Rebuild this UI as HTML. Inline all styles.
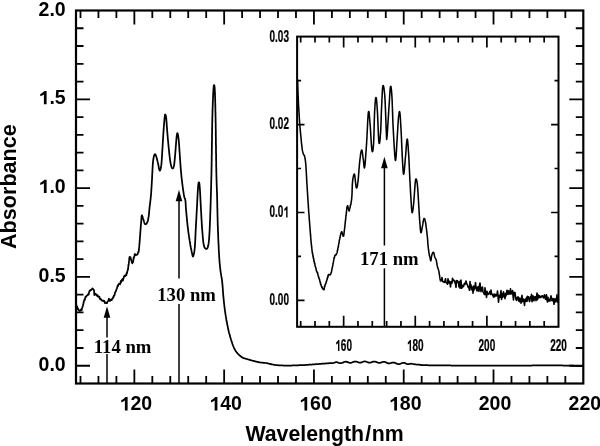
<!DOCTYPE html><html><head><meta charset="utf-8"><style>html,body{margin:0;padding:0;background:#fff;}svg{display:block;filter:grayscale(1);}</style></head><body><svg width="600" height="446" viewBox="0 0 600 446"><rect width="600" height="446" fill="#fff"/><path d="M80.49,383.5v-7.5M80.49,10.5v7.5 M98.45,383.5v-7.5M98.45,10.5v7.5 M116.40,383.5v-7.5M116.40,10.5v7.5 M134.36,383.5v-14M134.36,10.5v14 M152.32,383.5v-7.5M152.32,10.5v7.5 M170.28,383.5v-7.5M170.28,10.5v7.5 M188.23,383.5v-7.5M188.23,10.5v7.5 M206.19,383.5v-7.5M206.19,10.5v7.5 M224.15,383.5v-14M224.15,10.5v14 M242.11,383.5v-7.5M242.11,10.5v7.5 M260.06,383.5v-7.5M260.06,10.5v7.5 M278.02,383.5v-7.5M278.02,10.5v7.5 M295.98,383.5v-7.5M295.98,10.5v7.5 M313.94,383.5v-14M313.94,10.5v14 M331.89,383.5v-7.5M331.89,10.5v7.5 M349.85,383.5v-7.5M349.85,10.5v7.5 M367.81,383.5v-7.5M367.81,10.5v7.5 M385.77,383.5v-7.5M385.77,10.5v7.5 M403.72,383.5v-14M403.72,10.5v14 M421.68,383.5v-7.5M421.68,10.5v7.5 M439.64,383.5v-7.5M439.64,10.5v7.5 M457.60,383.5v-7.5M457.60,10.5v7.5 M475.55,383.5v-7.5M475.55,10.5v7.5 M493.51,383.5v-14M493.51,10.5v14 M511.47,383.5v-7.5M511.47,10.5v7.5 M529.43,383.5v-7.5M529.43,10.5v7.5 M547.38,383.5v-7.5M547.38,10.5v7.5 M565.34,383.5v-7.5M565.34,10.5v7.5 M76,365.74h14M583.3,365.74h-14 M76,347.98h7.5M583.3,347.98h-7.5 M76,330.21h7.5M583.3,330.21h-7.5 M76,312.45h7.5M583.3,312.45h-7.5 M76,294.69h7.5M583.3,294.69h-7.5 M76,276.93h14M583.3,276.93h-14 M76,259.17h7.5M583.3,259.17h-7.5 M76,241.40h7.5M583.3,241.40h-7.5 M76,223.64h7.5M583.3,223.64h-7.5 M76,205.88h7.5M583.3,205.88h-7.5 M76,188.12h14M583.3,188.12h-14 M76,170.36h7.5M583.3,170.36h-7.5 M76,152.60h7.5M583.3,152.60h-7.5 M76,134.83h7.5M583.3,134.83h-7.5 M76,117.07h7.5M583.3,117.07h-7.5 M76,99.31h14M583.3,99.31h-14 M76,81.55h7.5M583.3,81.55h-7.5 M76,63.79h7.5M583.3,63.79h-7.5 M76,46.02h7.5M583.3,46.02h-7.5 M76,28.26h7.5M583.3,28.26h-7.5" stroke="#000" stroke-width="1.8" fill="none"/><rect x="76" y="10.5" width="507.29999999999995" height="373.0" stroke="#000" stroke-width="2.2" fill="none"/><path d="M76.5,304.9L76.6,306.0L76.8,306.7L77.0,306.5L77.2,306.7L77.4,307.8L77.6,308.6L77.9,309.4L78.2,308.8L78.4,309.2L78.7,310.3L79.2,310.4L79.7,310.9L80.3,310.5L80.8,309.7L81.4,309.2L81.8,310.0L82.0,308.3L82.2,307.7L82.3,307.1L82.5,307.2L82.6,306.7L82.8,306.0L82.9,305.6L83.0,305.2L83.1,304.8L83.3,304.5L83.4,303.6L83.6,302.2L83.7,302.7L83.9,301.2L84.0,301.2L84.2,300.1L84.4,300.2L84.5,299.3L84.7,299.3L84.8,300.2L85.0,298.3L85.3,298.0L85.6,296.5L85.9,296.5L86.2,296.6L86.5,295.9L86.9,295.7L87.3,295.3L87.8,294.5L88.2,294.8L88.5,293.8L88.7,294.6L88.9,292.9L89.0,292.9L89.1,292.0L89.3,291.9L89.6,290.7L90.0,290.9L90.5,289.9L90.9,290.2L91.4,289.5L91.9,289.0L92.4,288.4L92.8,289.0L93.2,289.1L93.5,290.0L93.8,289.7L94.0,290.7L94.1,291.2L94.1,291.6L94.2,292.2L94.2,292.8L94.2,293.0L94.2,293.4L94.3,294.1L94.3,294.8L94.4,295.0L94.6,293.9L94.9,293.5L95.2,293.5L95.5,293.8L95.9,294.1L96.3,294.8L96.7,295.7L97.1,295.1L97.5,295.2L97.9,296.6L98.3,296.2L98.7,296.8L99.1,297.2L99.4,296.7L99.7,298.7L100.0,298.9L100.3,298.7L100.6,299.4L100.9,299.6L101.2,299.5L101.5,300.1L102.1,300.6L102.7,300.9L103.3,300.7L103.8,300.6L104.1,301.6L104.4,301.1L104.7,302.4L104.9,303.1L105.1,302.9L105.4,302.5L105.9,303.0L106.4,303.2L106.9,302.8L107.2,302.9L107.5,301.3L107.9,301.2L108.2,300.9L108.6,300.1L108.9,298.7L109.4,300.1L109.8,301.0L110.3,300.6L110.9,299.5L111.2,299.5L111.5,299.5L111.8,300.1L112.1,298.9L112.4,298.3L112.8,298.4L113.1,297.2L113.4,297.6L113.7,295.9L114.0,295.5L114.2,295.6L114.4,295.5L114.6,294.6L114.8,294.0L115.0,292.5L115.2,292.5L115.4,292.0L115.6,291.5L115.8,291.5L116.0,290.5L116.2,290.5L116.3,289.8L116.5,289.2L116.7,288.8L116.9,288.3L117.1,288.0L117.3,286.9L117.5,286.5L117.7,285.5L117.8,286.4L118.0,286.0L118.2,284.9L118.6,284.3L119.0,283.7L119.4,284.1L119.8,283.8L120.1,284.3L120.4,283.0L120.6,282.1L120.9,280.8L121.2,282.1L121.5,281.1L121.8,279.8L122.2,280.1L122.6,278.9L122.9,280.7L123.2,279.2L123.5,278.4L123.8,277.5L124.0,276.1L124.3,276.5L124.7,275.6L125.1,276.3L125.6,274.8L126.0,274.8L126.2,275.4L126.4,275.2L126.5,273.5L126.7,272.8L126.9,273.4L127.1,272.9L127.2,271.5L127.4,271.1L127.6,270.5L127.7,269.8L127.8,269.5L127.9,269.9L128.0,269.2L128.1,269.3L128.2,267.9L128.2,267.4L128.3,266.5L128.4,266.4L128.4,265.3L128.5,264.5L128.6,265.0L128.7,264.9L128.7,264.1L128.8,263.7L128.9,262.6L128.9,261.5L129.0,261.2L129.1,260.4L129.2,259.4L129.2,258.5L129.3,258.1L129.4,258.2L129.5,257.8L129.5,257.1L129.6,257.7L129.7,256.9L129.9,256.9L130.1,257.5L130.4,257.1L130.6,257.3L130.9,259.3L131.1,259.3L131.3,260.7L131.5,260.9L131.7,261.9L131.9,262.4L132.1,261.7L132.3,263.3L132.5,262.7L132.6,262.5L132.8,262.3L132.9,262.4L133.1,261.9L133.2,261.3L133.4,259.5L133.5,259.3L133.6,257.9L133.8,258.3L133.9,258.2L134.1,256.9L134.2,256.8L134.3,256.2L134.5,255.9L134.6,254.6L134.8,254.2L135.0,254.0L135.5,255.0L136.1,255.0L136.7,254.7L137.2,254.7L137.4,254.4L137.6,254.1L137.8,253.5L138.0,253.0L138.2,252.0L138.4,251.7L138.6,252.1L138.7,250.9L138.8,250.3L138.9,249.8L138.9,249.4L139.0,249.1L139.0,248.4L139.1,247.9L139.1,247.4L139.2,246.9L139.3,246.3L139.3,245.7L139.3,245.2L139.4,244.6L139.4,244.0L139.5,243.4L139.5,242.9L139.6,242.5L139.6,242.0L139.7,241.5L139.7,241.0L139.7,240.5L139.8,240.0L139.8,239.5L139.8,239.0L139.9,238.5L139.9,238.0L139.9,237.4L140.0,236.9L140.0,236.3L140.1,235.8L140.1,235.2L140.2,234.6L140.2,234.0L140.2,233.6L140.3,233.1L140.3,232.6L140.3,232.1L140.4,231.6L140.4,231.1L140.5,230.5L140.5,230.0L140.6,229.5L140.6,228.9L140.6,228.4L140.7,227.8L140.7,227.3L140.8,226.7L140.8,226.2L140.8,225.7L140.9,225.1L140.9,224.6L141.0,224.1L141.0,223.6L141.1,223.2L141.1,222.7L141.1,222.3L141.2,221.9L141.2,221.5L141.3,220.7L141.3,220.0L141.4,219.2L141.4,218.5L141.5,217.9L141.5,217.3L141.5,216.7L141.6,216.3L141.7,215.9L141.7,215.6L141.8,215.4L141.9,215.3L142.0,215.4L142.2,215.6L142.3,216.0L142.5,216.5L142.7,217.0L142.8,217.7L143.0,218.3L143.2,219.0L143.4,219.6L143.5,220.1L143.7,220.6L143.9,221.3L144.1,221.9L144.3,222.5L144.5,223.1L144.7,223.6L144.9,224.0L145.1,224.2L145.5,224.3L146.0,224.1L146.4,223.7L146.9,223.1L147.3,222.4L147.4,222.0L147.6,221.7L147.7,221.2L147.8,220.8L148.0,220.3L148.1,219.8L148.2,219.2L148.3,218.6L148.4,218.0L148.5,217.4L148.6,216.8L148.7,216.2L148.8,215.8L148.8,215.3L148.9,214.9L148.9,214.4L149.0,214.0L149.0,213.5L149.1,213.0L149.1,212.5L149.2,212.0L149.2,211.5L149.2,211.0L149.3,210.5L149.3,209.9L149.4,209.4L149.4,208.9L149.5,208.3L149.5,207.8L149.6,207.2L149.7,206.7L149.7,206.3L149.8,205.8L149.8,205.3L149.9,204.9L149.9,204.4L150.0,203.9L150.1,203.4L150.1,203.0L150.2,202.5L150.2,202.0L150.3,201.5L150.4,201.0L150.4,200.4L150.5,199.9L150.6,199.4L150.6,198.8L150.7,198.3L150.7,197.7L150.8,197.2L150.8,196.6L150.9,196.0L150.9,195.6L151.0,195.1L151.0,194.7L151.0,194.2L151.1,193.8L151.1,193.3L151.2,192.8L151.2,192.4L151.2,191.9L151.3,191.4L151.3,190.9L151.3,190.5L151.3,190.0L151.4,189.5L151.4,189.0L151.4,188.5L151.5,188.0L151.5,187.5L151.5,187.0L151.6,186.4L151.6,185.9L151.6,185.4L151.7,184.9L151.7,184.3L151.7,183.8L151.8,183.2L151.8,182.7L151.8,182.1L151.9,181.6L151.9,181.0L151.9,180.5L152.0,180.1L152.0,179.6L152.0,179.1L152.0,178.6L152.1,178.1L152.1,177.6L152.1,177.1L152.1,176.5L152.2,176.0L152.2,175.4L152.2,174.9L152.2,174.4L152.3,173.8L152.3,173.2L152.3,172.7L152.4,172.1L152.4,171.6L152.4,171.0L152.4,170.5L152.5,169.9L152.5,169.4L152.5,168.9L152.6,168.3L152.6,167.8L152.6,167.3L152.6,166.8L152.7,166.3L152.7,165.8L152.7,165.3L152.8,164.9L152.8,164.4L152.8,164.0L152.9,163.5L152.9,163.1L152.9,162.7L153.0,162.4L153.0,162.0L153.1,161.1L153.2,160.4L153.3,159.6L153.4,158.9L153.5,158.3L153.6,157.7L153.7,157.2L153.8,156.7L153.9,156.3L154.1,155.9L154.2,155.6L154.3,155.2L154.4,155.0L154.5,154.7L154.6,154.5L155.0,154.1L155.3,154.4L155.7,155.0L156.1,156.0L156.2,156.3L156.3,156.7L156.5,157.1L156.6,157.5L156.7,158.0L156.9,158.5L157.0,159.0L157.1,159.5L157.2,160.1L157.4,160.6L157.5,161.2L157.6,161.7L157.8,162.3L157.9,162.8L158.0,163.3L158.1,163.8L158.2,164.4L158.4,165.0L158.5,165.6L158.6,166.2L158.7,166.9L158.8,167.5L158.9,168.1L159.0,168.6L159.2,169.1L159.3,169.6L159.4,170.0L159.5,170.3L159.6,170.5L159.7,170.6L159.9,170.6L160.0,170.5L160.2,170.3L160.3,170.0L160.5,169.5L160.6,169.0L160.8,168.3L160.9,167.6L161.0,166.8L161.2,165.9L161.3,165.0L161.3,164.6L161.4,164.3L161.4,163.9L161.5,163.5L161.5,163.1L161.5,162.6L161.6,162.2L161.6,161.7L161.7,161.2L161.7,160.8L161.7,160.3L161.8,159.8L161.8,159.2L161.8,158.7L161.9,158.2L161.9,157.6L161.9,157.1L162.0,156.6L162.0,156.0L162.0,155.4L162.1,154.9L162.1,154.3L162.1,153.8L162.2,153.2L162.2,152.6L162.2,152.1L162.3,151.5L162.3,150.9L162.3,150.4L162.4,149.8L162.4,149.3L162.4,148.8L162.5,148.3L162.5,147.8L162.5,147.3L162.6,146.8L162.6,146.3L162.6,145.8L162.6,145.3L162.7,144.8L162.7,144.2L162.7,143.7L162.8,143.2L162.8,142.7L162.8,142.1L162.9,141.6L162.9,141.1L162.9,140.5L163.0,140.0L163.0,139.5L163.0,139.0L163.1,138.4L163.1,137.9L163.1,137.4L163.1,136.9L163.2,136.3L163.2,135.8L163.2,135.3L163.3,134.8L163.3,134.3L163.3,133.8L163.4,133.3L163.4,132.8L163.4,132.3L163.5,131.9L163.5,131.4L163.5,130.8L163.6,130.3L163.6,129.7L163.7,129.1L163.7,128.5L163.8,128.0L163.8,127.4L163.8,126.8L163.9,126.2L163.9,125.6L164.0,125.1L164.0,124.5L164.1,123.9L164.1,123.4L164.2,122.8L164.2,122.3L164.2,121.8L164.3,121.3L164.3,120.8L164.4,120.3L164.4,119.8L164.4,119.4L164.5,119.0L164.5,118.5L164.6,118.2L164.6,117.8L164.6,117.4L164.7,117.1L164.7,116.8L164.9,115.2L165.0,114.6L165.1,114.5L165.3,114.6L165.4,114.7L165.5,114.8L165.6,115.0L165.8,115.4L165.9,116.0L166.1,116.8L166.2,118.0L166.2,118.3L166.3,118.7L166.3,119.0L166.3,119.4L166.4,119.8L166.4,120.2L166.4,120.6L166.5,121.1L166.5,121.6L166.5,122.0L166.6,122.5L166.6,123.0L166.7,123.6L166.7,124.1L166.7,124.6L166.8,125.2L166.8,125.7L166.8,126.3L166.9,126.8L166.9,127.4L167.0,128.0L167.0,128.5L167.0,129.1L167.1,129.7L167.1,130.2L167.2,130.8L167.2,131.4L167.3,131.9L167.3,132.5L167.4,133.1L167.4,133.6L167.4,134.1L167.5,134.5L167.5,135.0L167.6,135.5L167.6,136.0L167.7,136.5L167.7,137.0L167.7,137.5L167.8,138.1L167.8,138.6L167.9,139.1L167.9,139.6L168.0,140.2L168.0,140.7L168.1,141.2L168.1,141.7L168.2,142.3L168.2,142.8L168.3,143.3L168.3,143.9L168.4,144.4L168.4,144.9L168.5,145.4L168.5,145.9L168.6,146.4L168.6,146.9L168.7,147.4L168.7,147.9L168.8,148.4L168.8,148.9L168.9,149.4L168.9,149.8L169.0,150.3L169.0,150.7L169.1,151.2L169.1,151.6L169.2,152.2L169.2,152.8L169.3,153.5L169.4,154.1L169.4,154.7L169.5,155.3L169.6,155.8L169.6,156.4L169.7,157.0L169.8,157.5L169.8,158.1L169.9,158.6L170.0,159.1L170.0,159.6L170.1,160.1L170.2,160.6L170.2,161.1L170.3,161.5L170.4,161.9L170.4,162.4L170.5,162.8L170.6,163.2L170.6,163.5L170.7,163.9L170.9,164.8L171.1,165.6L171.3,166.3L171.5,166.9L171.7,167.4L171.9,167.8L172.1,168.1L172.3,168.3L172.5,168.4L172.7,168.4L173.0,168.3L173.2,168.0L173.4,167.6L173.7,166.9L173.9,166.1L174.1,165.0L174.2,164.7L174.2,164.3L174.3,163.9L174.3,163.5L174.4,163.1L174.4,162.6L174.5,162.1L174.5,161.6L174.6,161.1L174.6,160.6L174.7,160.0L174.7,159.5L174.8,158.9L174.8,158.4L174.9,157.8L174.9,157.2L175.0,156.6L175.0,156.1L175.1,155.5L175.1,154.9L175.2,154.3L175.2,153.8L175.3,153.2L175.3,152.7L175.4,152.1L175.4,151.6L175.4,151.1L175.5,150.6L175.5,150.1L175.6,149.5L175.6,149.0L175.7,148.4L175.7,147.9L175.7,147.3L175.8,146.8L175.8,146.2L175.9,145.7L175.9,145.1L176.0,144.6L176.0,144.0L176.0,143.5L176.1,143.0L176.1,142.5L176.2,142.0L176.2,141.5L176.2,141.0L176.3,140.5L176.3,140.1L176.3,139.6L176.4,139.2L176.4,138.8L176.5,138.5L176.5,138.1L176.6,137.1L176.7,136.2L176.8,135.4L176.9,134.7L177.0,134.2L177.1,133.7L177.2,133.4L177.3,133.2L177.4,133.2L177.5,133.3L177.6,133.5L177.7,133.7L177.8,134.1L177.9,134.5L178.0,135.0L178.1,135.5L178.2,136.2L178.3,136.8L178.4,137.6L178.5,138.4L178.6,139.2L178.6,139.6L178.7,139.9L178.7,140.3L178.8,140.7L178.8,141.2L178.8,141.6L178.9,142.1L178.9,142.5L178.9,143.0L179.0,143.5L179.0,144.0L179.1,144.5L179.1,145.0L179.1,145.5L179.2,146.0L179.2,146.6L179.2,147.1L179.3,147.6L179.3,148.2L179.3,148.7L179.4,149.3L179.4,149.9L179.5,150.4L179.5,151.0L179.5,151.5L179.6,152.1L179.6,152.7L179.7,153.2L179.7,153.8L179.7,154.3L179.8,154.7L179.8,155.2L179.8,155.7L179.9,156.2L179.9,156.7L179.9,157.2L180.0,157.7L180.0,158.3L180.0,158.8L180.1,159.3L180.1,159.8L180.2,160.4L180.2,160.9L180.2,161.4L180.3,162.0L180.3,162.5L180.3,163.0L180.4,163.6L180.4,164.1L180.4,164.6L180.5,165.2L180.5,165.7L180.6,166.2L180.6,166.8L180.6,167.3L180.7,167.8L180.7,168.3L180.8,168.8L180.8,169.3L180.8,169.8L180.9,170.3L180.9,170.8L181.0,171.2L181.0,171.7L181.1,172.3L181.1,172.8L181.2,173.4L181.2,174.0L181.3,174.5L181.3,175.1L181.4,175.6L181.4,176.2L181.5,176.7L181.5,177.2L181.6,177.8L181.7,178.3L181.7,178.8L181.8,179.3L181.8,179.8L181.9,180.3L182.0,180.8L182.0,181.3L182.1,181.8L182.1,182.3L182.2,182.8L182.3,183.3L182.3,183.7L182.4,184.2L182.4,184.6L182.5,185.1L182.5,185.6L182.6,186.0L182.7,186.6L182.8,187.2L182.8,187.8L182.9,188.3L183.0,188.9L183.1,189.5L183.1,190.0L183.2,190.6L183.3,191.1L183.4,191.6L183.5,192.2L183.5,192.7L183.6,193.1L183.7,193.6L183.8,194.1L183.8,194.5L183.9,195.0L184.0,195.4L184.1,195.8L184.1,196.1L184.2,196.5L184.4,197.3L184.5,197.8L184.7,198.2L184.9,198.5L185.0,198.9L185.1,199.2L185.3,199.8L185.4,200.5L185.4,200.9L185.5,201.3L185.5,201.6L185.6,202.1L185.6,202.5L185.6,202.9L185.6,203.4L185.7,203.8L185.7,204.3L185.7,204.8L185.8,205.4L185.8,205.9L185.8,206.5L185.8,207.1L185.9,207.7L185.9,208.3L186.0,209.0L186.0,209.7L186.1,210.4L186.1,210.8L186.2,211.2L186.2,211.7L186.3,212.1L186.3,212.6L186.3,213.0L186.4,213.5L186.4,214.0L186.5,214.5L186.5,215.0L186.6,215.5L186.6,216.0L186.7,216.6L186.7,217.1L186.8,217.6L186.8,218.2L186.9,218.7L186.9,219.3L187.0,219.8L187.0,220.4L187.1,220.9L187.1,221.5L187.2,222.0L187.3,222.6L187.3,223.1L187.4,223.7L187.4,224.2L187.5,224.7L187.5,225.3L187.6,225.8L187.7,226.3L187.7,226.8L187.8,227.3L187.8,227.8L187.9,228.3L188.0,228.8L188.0,229.4L188.1,229.9L188.2,230.5L188.2,231.0L188.3,231.6L188.4,232.1L188.5,232.7L188.5,233.2L188.6,233.8L188.7,234.3L188.8,234.8L188.9,235.4L188.9,235.9L189.0,236.4L189.1,237.0L189.2,237.5L189.2,238.0L189.3,238.5L189.4,239.0L189.5,239.5L189.6,240.0L189.6,240.5L189.7,241.0L189.8,241.4L189.9,241.9L189.9,242.3L190.0,242.8L190.1,243.2L190.1,243.6L190.2,244.0L190.3,244.7L190.4,245.3L190.5,246.0L190.6,246.6L190.8,247.1L190.9,247.7L191.0,248.2L191.1,248.8L191.2,249.3L191.3,249.8L191.4,250.2L191.5,250.7L191.6,251.1L191.7,251.5L191.7,251.9L191.8,252.3L191.9,252.7L192.0,253.0L192.2,254.0L192.4,254.9L192.6,255.7L192.7,256.2L192.9,256.5L193.1,256.3L193.2,256.1L193.3,255.9L193.4,255.6L193.5,255.3L193.6,255.0L193.7,254.6L193.8,254.1L194.0,253.6L194.1,253.0L194.2,252.4L194.3,251.8L194.4,251.0L194.5,250.2L194.6,249.4L194.7,248.5L194.7,248.1L194.8,247.8L194.8,247.4L194.8,247.0L194.9,246.6L194.9,246.1L194.9,245.7L195.0,245.3L195.0,244.8L195.0,244.3L195.0,243.8L195.1,243.4L195.1,242.9L195.1,242.3L195.1,241.8L195.2,241.3L195.2,240.8L195.2,240.3L195.3,239.7L195.3,239.2L195.3,238.6L195.3,238.1L195.4,237.5L195.4,237.0L195.4,236.4L195.4,235.9L195.5,235.3L195.5,234.8L195.5,234.2L195.5,233.6L195.6,233.1L195.6,232.5L195.6,232.0L195.6,231.4L195.7,230.9L195.7,230.4L195.7,229.8L195.7,229.3L195.8,228.8L195.8,228.3L195.8,227.8L195.9,227.3L195.9,226.8L195.9,226.3L195.9,225.8L196.0,225.3L196.0,224.8L196.0,224.3L196.0,223.8L196.1,223.3L196.1,222.7L196.1,222.2L196.2,221.7L196.2,221.2L196.2,220.7L196.2,220.2L196.3,219.7L196.3,219.2L196.3,218.7L196.4,218.2L196.4,217.7L196.4,217.2L196.4,216.7L196.5,216.2L196.5,215.7L196.5,215.2L196.5,214.7L196.6,214.2L196.6,213.7L196.6,213.1L196.7,212.6L196.7,212.1L196.7,211.6L196.7,211.1L196.8,210.6L196.8,210.1L196.8,209.6L196.8,209.1L196.9,208.6L196.9,208.1L196.9,207.6L197.0,207.1L197.0,206.5L197.0,206.0L197.0,205.5L197.1,204.9L197.1,204.4L197.1,203.8L197.2,203.3L197.2,202.7L197.2,202.1L197.2,201.6L197.3,201.0L197.3,200.4L197.3,199.9L197.3,199.3L197.4,198.8L197.4,198.2L197.4,197.6L197.5,197.1L197.5,196.5L197.5,196.0L197.5,195.5L197.6,194.9L197.6,194.4L197.6,193.9L197.7,193.4L197.7,192.9L197.7,192.4L197.7,191.9L197.8,191.5L197.8,191.0L197.8,190.6L197.8,190.1L197.9,189.7L197.9,189.3L197.9,188.9L197.9,188.6L198.0,188.2L198.0,187.9L198.1,186.8L198.2,185.8L198.3,185.0L198.3,184.3L198.4,183.7L198.5,183.3L198.6,182.9L198.7,182.6L198.7,182.4L198.8,182.3L198.9,182.3L199.0,182.3L199.1,182.4L199.1,182.6L199.2,182.9L199.3,183.3L199.4,183.7L199.5,184.3L199.5,185.0L199.6,185.8L199.7,186.8L199.8,187.9L199.8,188.2L199.9,188.6L199.9,188.9L199.9,189.3L199.9,189.7L200.0,190.1L200.0,190.6L200.0,191.0L200.0,191.5L200.1,191.9L200.1,192.4L200.1,192.9L200.1,193.4L200.2,193.9L200.2,194.4L200.2,194.9L200.2,195.5L200.3,196.0L200.3,196.5L200.3,197.1L200.4,197.6L200.4,198.2L200.4,198.8L200.4,199.3L200.5,199.9L200.5,200.4L200.5,201.0L200.6,201.6L200.6,202.1L200.6,202.7L200.6,203.3L200.7,203.8L200.7,204.4L200.7,204.9L200.8,205.5L200.8,206.0L200.8,206.5L200.8,207.1L200.9,207.6L200.9,208.1L200.9,208.6L201.0,209.1L201.0,209.6L201.0,210.1L201.0,210.7L201.1,211.2L201.1,211.7L201.1,212.2L201.2,212.7L201.2,213.3L201.2,213.8L201.2,214.3L201.3,214.8L201.3,215.3L201.3,215.9L201.4,216.4L201.4,216.9L201.4,217.4L201.4,218.0L201.5,218.5L201.5,219.0L201.5,219.5L201.6,220.0L201.6,220.5L201.6,221.1L201.7,221.6L201.7,222.1L201.7,222.6L201.7,223.1L201.8,223.6L201.8,224.1L201.8,224.5L201.9,225.0L201.9,225.5L201.9,226.0L202.0,226.5L202.0,226.9L202.0,227.4L202.1,227.8L202.1,228.3L202.1,228.9L202.2,229.5L202.2,230.0L202.3,230.6L202.3,231.2L202.4,231.8L202.4,232.4L202.5,232.9L202.5,233.5L202.6,234.1L202.6,234.7L202.6,235.2L202.7,235.8L202.7,236.3L202.8,236.9L202.8,237.4L202.9,237.9L202.9,238.4L203.0,238.9L203.0,239.4L203.1,239.9L203.1,240.4L203.2,240.9L203.2,241.3L203.3,241.7L203.3,242.2L203.4,242.6L203.4,242.9L203.5,243.3L203.5,243.7L203.6,244.0L203.8,245.0L204.0,245.9L204.2,246.5L204.4,247.1L204.5,247.5L204.8,247.8L205.0,248.1L205.2,248.3L205.4,248.5L205.8,248.8L206.3,248.9L206.8,248.8L207.3,248.3L207.7,247.4L207.8,247.1L207.9,246.8L208.0,246.5L208.1,246.2L208.1,245.9L208.2,245.6L208.3,245.2L208.4,244.8L208.4,244.4L208.5,244.0L208.6,243.5L208.7,243.0L208.7,242.4L208.8,241.8L208.9,241.2L208.9,240.5L209.0,239.8L209.1,239.0L209.1,238.2L209.2,237.3L209.2,236.9L209.3,236.6L209.3,236.2L209.3,235.8L209.3,235.5L209.3,235.1L209.4,234.7L209.4,234.3L209.4,233.9L209.4,233.5L209.5,233.0L209.5,232.6L209.5,232.2L209.5,231.7L209.6,231.3L209.6,230.8L209.6,230.4L209.6,229.9L209.7,229.5L209.7,229.0L209.7,228.5L209.7,228.0L209.7,227.5L209.8,227.0L209.8,226.5L209.8,226.0L209.8,225.5L209.9,225.0L209.9,224.4L209.9,223.9L209.9,223.4L209.9,222.8L210.0,222.3L210.0,221.7L210.0,221.2L210.0,220.6L210.1,220.0L210.1,219.5L210.1,218.9L210.1,218.3L210.1,217.7L210.2,217.1L210.2,216.6L210.2,216.0L210.2,215.4L210.2,214.8L210.3,214.1L210.3,213.5L210.3,212.9L210.3,212.3L210.4,211.7L210.4,211.0L210.4,210.4L210.4,210.0L210.4,209.6L210.4,209.1L210.5,208.7L210.5,208.3L210.5,207.8L210.5,207.4L210.5,207.0L210.5,206.5L210.5,206.1L210.6,205.6L210.6,205.2L210.6,204.7L210.6,204.3L210.6,203.8L210.6,203.3L210.6,202.9L210.7,202.4L210.7,201.9L210.7,201.5L210.7,201.0L210.7,200.5L210.7,200.1L210.7,199.6L210.8,199.1L210.8,198.6L210.8,198.1L210.8,197.6L210.8,197.2L210.8,196.7L210.8,196.2L210.9,195.7L210.9,195.2L210.9,194.7L210.9,194.2L210.9,193.7L210.9,193.2L210.9,192.7L211.0,192.2L211.0,191.7L211.0,191.1L211.0,190.6L211.0,190.1L211.0,189.6L211.0,189.1L211.1,188.6L211.1,188.0L211.1,187.5L211.1,187.0L211.1,186.5L211.1,185.9L211.1,185.4L211.2,184.9L211.2,184.3L211.2,183.8L211.2,183.3L211.2,182.7L211.2,182.2L211.2,181.6L211.2,181.1L211.3,180.6L211.3,180.0L211.3,179.5L211.3,178.9L211.3,178.4L211.3,177.8L211.3,177.3L211.4,176.7L211.4,176.2L211.4,175.6L211.4,175.1L211.4,174.5L211.4,173.9L211.4,173.4L211.4,172.8L211.5,172.3L211.5,171.7L211.5,171.1L211.5,170.6L211.5,170.0L211.5,169.5L211.5,169.1L211.5,168.6L211.5,168.2L211.5,167.7L211.6,167.2L211.6,166.7L211.6,166.2L211.6,165.8L211.6,165.3L211.6,164.8L211.6,164.3L211.6,163.8L211.6,163.3L211.6,162.8L211.6,162.3L211.7,161.8L211.7,161.3L211.7,160.7L211.7,160.2L211.7,159.7L211.7,159.2L211.7,158.7L211.7,158.1L211.7,157.6L211.7,157.1L211.7,156.6L211.7,156.0L211.7,155.5L211.8,155.0L211.8,154.4L211.8,153.9L211.8,153.3L211.8,152.8L211.8,152.3L211.8,151.7L211.8,151.2L211.8,150.6L211.8,150.1L211.8,149.6L211.8,149.0L211.8,148.5L211.9,147.9L211.9,147.4L211.9,146.8L211.9,146.3L211.9,145.7L211.9,145.2L211.9,144.7L211.9,144.1L211.9,143.6L211.9,143.0L211.9,142.5L211.9,141.9L211.9,141.4L212.0,140.9L212.0,140.3L212.0,139.8L212.0,139.3L212.0,138.7L212.0,138.2L212.0,137.7L212.0,137.2L212.0,136.6L212.0,136.1L212.0,135.6L212.0,135.1L212.0,134.5L212.0,134.0L212.1,133.5L212.1,133.0L212.1,132.5L212.1,132.0L212.1,131.5L212.1,131.0L212.1,130.5L212.1,130.0L212.1,129.5L212.1,129.0L212.1,128.6L212.1,128.1L212.1,127.6L212.2,127.1L212.2,126.7L212.2,126.2L212.2,125.8L212.2,125.3L212.2,124.8L212.2,124.4L212.2,124.0L212.2,123.5L212.2,123.1L212.2,122.7L212.2,122.2L212.3,121.8L212.3,121.4L212.3,121.0L212.3,120.6L212.3,120.2L212.3,119.8L212.3,119.1L212.3,118.4L212.3,117.7L212.4,117.0L212.4,116.4L212.4,115.7L212.4,115.0L212.4,114.4L212.5,113.7L212.5,113.1L212.5,112.5L212.5,111.9L212.5,111.2L212.5,110.6L212.6,110.0L212.6,109.4L212.6,108.9L212.6,108.3L212.6,107.7L212.7,107.2L212.7,106.6L212.7,106.1L212.7,105.5L212.7,105.0L212.8,104.5L212.8,104.0L212.8,103.4L212.8,102.9L212.8,102.4L212.8,102.0L212.9,101.5L212.9,101.0L212.9,100.5L212.9,100.1L212.9,99.6L213.0,99.2L213.0,98.7L213.0,98.3L213.0,97.9L213.0,97.5L213.1,97.1L213.1,96.7L213.1,96.3L213.1,95.9L213.1,95.5L213.1,95.1L213.2,94.7L213.2,94.4L213.2,94.0L213.2,93.7L213.2,93.3L213.3,93.0L213.3,92.6L213.3,92.3L213.3,92.0L213.4,90.7L213.4,89.6L213.5,88.7L213.6,87.9L213.6,87.2L213.7,86.6L213.7,86.2L213.8,85.8L213.9,85.5L213.9,85.3L214.0,85.2L214.0,85.1L214.1,85.1L214.2,85.1L214.2,85.2L214.3,85.3L214.3,85.5L214.4,85.8L214.5,86.2L214.5,86.6L214.6,87.2L214.7,87.9L214.7,88.7L214.8,89.6L214.8,90.7L214.9,92.0L214.9,92.3L214.9,92.6L214.9,93.0L215.0,93.3L215.0,93.7L215.0,94.0L215.0,94.4L215.0,94.7L215.0,95.1L215.0,95.5L215.0,95.9L215.1,96.3L215.1,96.7L215.1,97.1L215.1,97.5L215.1,97.9L215.1,98.3L215.1,98.7L215.1,99.2L215.2,99.6L215.2,100.1L215.2,100.5L215.2,101.0L215.2,101.5L215.2,102.0L215.2,102.4L215.2,102.9L215.3,103.4L215.3,104.0L215.3,104.5L215.3,105.0L215.3,105.5L215.3,106.1L215.3,106.6L215.3,107.2L215.4,107.7L215.4,108.3L215.4,108.9L215.4,109.4L215.4,110.0L215.4,110.6L215.4,111.2L215.4,111.9L215.5,112.5L215.5,113.1L215.5,113.7L215.5,114.4L215.5,115.0L215.5,115.7L215.5,116.4L215.5,117.0L215.6,117.7L215.6,118.4L215.6,119.1L215.6,119.8L215.6,120.2L215.6,120.6L215.6,121.0L215.6,121.4L215.6,121.8L215.6,122.3L215.6,122.7L215.7,123.1L215.7,123.6L215.7,124.0L215.7,124.5L215.7,124.9L215.7,125.4L215.7,125.9L215.7,126.3L215.7,126.8L215.7,127.3L215.7,127.8L215.7,128.3L215.7,128.8L215.7,129.3L215.8,129.8L215.8,130.3L215.8,130.8L215.8,131.3L215.8,131.8L215.8,132.4L215.8,132.9L215.8,133.4L215.8,133.9L215.8,134.5L215.8,135.0L215.8,135.6L215.8,136.1L215.8,136.6L215.8,137.2L215.9,137.7L215.9,138.3L215.9,138.8L215.9,139.4L215.9,139.9L215.9,140.5L215.9,141.0L215.9,141.6L215.9,142.2L215.9,142.7L215.9,143.3L215.9,143.8L215.9,144.4L215.9,145.0L216.0,145.5L216.0,146.1L216.0,146.6L216.0,147.2L216.0,147.7L216.0,148.3L216.0,148.9L216.0,149.4L216.0,150.0L216.0,150.5L216.0,151.1L216.0,151.6L216.0,152.2L216.0,152.7L216.0,153.3L216.1,153.8L216.1,154.3L216.1,154.9L216.1,155.4L216.1,155.9L216.1,156.5L216.1,157.0L216.1,157.5L216.1,158.0L216.1,158.6L216.1,159.1L216.1,159.6L216.1,160.1L216.1,160.6L216.2,161.1L216.2,161.6L216.2,162.1L216.2,162.6L216.2,163.0L216.2,163.5L216.2,164.0L216.2,164.5L216.2,164.9L216.2,165.4L216.2,165.8L216.2,166.3L216.2,166.7L216.2,167.1L216.3,167.6L216.3,168.0L216.3,168.4L216.3,168.8L216.3,169.2L216.3,169.6L216.3,170.0L216.3,170.7L216.3,171.4L216.3,172.1L216.4,172.8L216.4,173.4L216.4,174.1L216.4,174.7L216.4,175.3L216.4,175.9L216.4,176.5L216.5,177.1L216.5,177.6L216.5,178.2L216.5,178.7L216.5,179.2L216.5,179.8L216.6,180.3L216.6,180.8L216.6,181.3L216.6,181.8L216.6,182.2L216.6,182.7L216.6,183.2L216.7,183.6L216.7,184.1L216.7,184.5L216.7,185.0L216.7,185.4L216.7,185.9L216.8,186.3L216.8,186.8L216.8,187.2L216.8,187.6L216.8,188.1L216.8,188.5L216.8,188.9L216.9,189.4L216.9,189.8L216.9,190.2L216.9,190.7L216.9,191.1L216.9,191.6L217.0,192.0L217.0,192.5L217.0,192.9L217.0,193.4L217.0,193.9L217.0,194.4L217.0,194.9L217.1,195.4L217.1,195.9L217.1,196.4L217.1,196.9L217.1,197.4L217.1,197.9L217.1,198.4L217.1,198.8L217.2,199.3L217.2,199.8L217.2,200.3L217.2,200.8L217.2,201.3L217.2,201.8L217.2,202.3L217.2,202.8L217.3,203.3L217.3,203.8L217.3,204.3L217.3,204.8L217.3,205.3L217.3,205.8L217.3,206.3L217.3,206.8L217.3,207.3L217.3,207.8L217.4,208.3L217.4,208.8L217.4,209.3L217.4,209.8L217.4,210.3L217.4,210.8L217.4,211.3L217.4,211.8L217.4,212.3L217.5,212.8L217.5,213.3L217.5,213.8L217.5,214.3L217.5,214.9L217.5,215.4L217.5,215.9L217.5,216.4L217.5,216.9L217.6,217.4L217.6,217.9L217.6,218.4L217.6,218.9L217.6,219.4L217.6,219.9L217.6,220.4L217.6,220.9L217.7,221.5L217.7,222.0L217.7,222.5L217.7,223.0L217.7,223.5L217.7,224.0L217.7,224.5L217.8,225.0L217.8,225.5L217.8,226.0L217.8,226.5L217.8,227.0L217.9,227.5L217.9,228.0L217.9,228.6L217.9,229.1L217.9,229.6L217.9,230.1L218.0,230.7L218.0,231.2L218.0,231.7L218.0,232.3L218.1,232.8L218.1,233.4L218.1,233.9L218.1,234.4L218.1,235.0L218.2,235.5L218.2,236.1L218.2,236.6L218.2,237.2L218.2,237.7L218.3,238.3L218.3,238.8L218.3,239.3L218.3,239.9L218.4,240.4L218.4,241.0L218.4,241.5L218.4,242.0L218.5,242.6L218.5,243.1L218.5,243.6L218.5,244.1L218.6,244.7L218.6,245.2L218.6,245.7L218.6,246.2L218.7,246.7L218.7,247.2L218.7,247.7L218.7,248.2L218.7,248.7L218.8,249.1L218.8,249.6L218.8,250.1L218.8,250.6L218.9,251.0L218.9,251.5L218.9,251.9L218.9,252.3L219.0,252.8L219.0,253.2L219.0,253.6L219.0,254.0L219.1,254.4L219.1,254.8L219.1,255.2L219.1,255.9L219.2,256.7L219.2,257.3L219.3,258.0L219.3,258.6L219.4,259.2L219.4,259.8L219.4,260.4L219.5,260.9L219.5,261.5L219.6,262.0L219.6,262.5L219.7,263.0L219.7,263.4L219.7,263.9L219.8,264.4L219.8,264.8L219.9,265.2L219.9,265.7L220.0,266.1L220.0,266.5L220.1,266.9L220.1,267.4L220.1,267.8L220.2,268.2L220.2,268.7L220.3,269.1L220.3,269.5L220.4,270.0L220.5,270.5L220.5,271.1L220.6,271.6L220.7,272.1L220.7,272.6L220.8,273.1L220.9,273.6L221.0,274.0L221.1,274.5L221.1,274.9L221.2,275.4L221.3,275.9L221.4,276.3L221.5,276.8L221.5,277.3L221.6,277.7L221.7,278.2L221.8,278.7L221.8,279.2L221.9,279.7L222.0,280.3L222.1,280.8L222.1,281.4L222.2,282.0L222.2,282.4L222.3,282.9L222.3,283.3L222.4,283.8L222.4,284.2L222.5,284.7L222.5,285.2L222.5,285.7L222.6,286.2L222.6,286.7L222.7,287.2L222.7,287.7L222.7,288.2L222.8,288.7L222.8,289.2L222.9,289.8L222.9,290.3L222.9,290.8L223.0,291.3L223.0,291.9L223.0,292.4L223.1,292.9L223.1,293.4L223.2,294.0L223.2,294.5L223.2,295.0L223.3,295.5L223.3,296.0L223.4,296.5L223.4,297.0L223.5,297.5L223.5,298.0L223.6,298.5L223.6,299.0L223.7,299.5L223.7,300.1L223.8,300.6L223.8,301.1L223.9,301.6L223.9,302.2L224.0,302.7L224.0,303.2L224.1,303.7L224.2,304.2L224.2,304.7L224.3,305.2L224.3,305.8L224.4,306.3L224.5,306.8L224.5,307.3L224.6,307.8L224.7,308.3L224.7,308.8L224.8,309.3L224.8,309.8L224.9,310.3L225.0,310.8L225.1,311.3L225.1,311.8L225.2,312.3L225.3,312.8L225.3,313.3L225.4,313.8L225.5,314.3L225.6,314.8L225.7,315.3L225.7,315.8L225.8,316.3L225.9,316.9L226.0,317.4L226.1,317.9L226.2,318.4L226.2,318.9L226.3,319.4L226.4,320.0L226.5,320.5L226.6,321.0L226.7,321.5L226.8,322.0L226.9,322.5L227.0,323.0L227.1,323.6L227.2,324.1L227.3,324.6L227.4,325.1L227.5,325.6L227.6,326.1L227.7,326.6L227.8,327.1L227.9,327.6L228.0,328.1L228.1,328.5L228.2,329.0L228.3,329.5L228.4,330.0L228.5,330.6L228.7,331.1L228.8,331.6L228.9,332.2L229.1,332.7L229.2,333.2L229.3,333.8L229.5,334.3L229.6,334.8L229.8,335.3L229.9,335.8L230.1,336.4L230.2,336.9L230.3,337.4L230.5,337.9L230.6,338.4L230.8,338.9L230.9,339.3L231.1,339.8L231.2,340.3L231.4,340.7L231.5,341.2L231.7,341.6L231.8,342.1L232.0,342.5L232.1,342.9L232.3,343.5L232.5,344.1L232.7,344.6L232.9,345.2L233.1,345.7L233.3,346.2L233.5,346.7L233.7,347.2L233.9,347.6L234.1,348.1L234.3,348.5L234.6,349.0L234.8,349.4L235.0,349.8L235.2,350.2L235.5,350.6L235.7,351.0L236.0,351.4L236.3,351.8L236.6,352.3L237.0,352.7L237.3,353.1L237.6,353.5L238.0,353.9L238.4,354.3L238.7,354.6L239.1,355.0L239.5,355.3L239.9,355.7L240.2,356.0L240.6,356.3L241.0,356.6L241.3,356.8L241.7,357.1L242.2,357.4L242.6,357.7L243.1,357.9L243.5,358.1L244.0,358.2L244.4,358.4L244.9,358.5L245.4,358.6L245.8,358.8L246.3,358.9L246.9,359.0L247.4,359.2L247.9,359.3L248.3,359.5L248.8,359.6L249.3,359.8L249.9,359.9L250.4,360.1L250.9,360.2L251.4,360.4L252.0,360.5L252.5,360.7L253.0,360.8L253.6,360.9L254.1,361.1L254.5,361.2L255.0,361.3L255.6,361.4L256.1,361.6L256.6,361.7L257.2,361.8L257.7,361.9L258.2,362.1L258.7,362.2L259.1,362.3L259.6,362.4L260.1,362.4L260.5,362.5L261.0,362.6L261.5,362.7L262.0,362.7L262.4,362.7L262.9,362.7L263.3,362.8L263.7,362.8L264.2,362.8L264.7,362.8L265.3,362.9L266.0,363.0L266.4,363.1L266.8,363.2L267.2,363.2L267.7,363.3L268.1,363.5L268.6,363.6L269.1,363.7L269.6,363.8L270.1,363.9L270.6,364.1L271.1,364.2L271.6,364.3L272.2,364.4L272.7,364.5L273.3,364.6L273.8,364.8L274.4,364.8L274.9,364.9L275.5,365.0L275.9,365.1L276.4,365.1L276.9,365.1L277.3,365.2L277.8,365.2L278.3,365.3L278.7,365.3L279.2,365.3L279.7,365.3L280.2,365.4L280.7,365.4L281.2,365.4L281.7,365.4L282.2,365.4L282.7,365.4L283.2,365.5L283.7,365.5L284.2,365.5L284.8,365.5L285.3,365.5L285.8,365.5L286.4,365.5L286.9,365.5L287.5,365.5L288.0,365.5L288.4,365.5L288.9,365.5L289.4,365.5L289.9,365.5L290.4,365.5L290.9,365.5L291.4,365.5L291.9,365.5L292.4,365.4L292.9,365.4L293.4,365.4L294.0,365.4L294.5,365.4L295.0,365.4L295.5,365.4L296.0,365.3L296.6,365.3L297.1,365.3L297.6,365.3L298.1,365.3L298.6,365.3L299.1,365.2L299.6,365.2L300.1,365.2L300.6,365.2L301.1,365.2L301.6,365.1L302.0,365.1L302.5,365.1L303.1,365.1L303.6,365.0L304.1,365.0L304.7,365.0L305.2,365.0L305.7,364.9L306.2,364.9L306.7,364.9L307.2,364.8L307.7,364.8L308.2,364.8L308.7,364.7L309.2,364.7L309.7,364.7L310.1,364.6L310.6,364.6L311.1,364.6L311.6,364.5L312.1,364.5L312.5,364.4L313.0,364.4L313.5,364.4L314.0,364.3L314.5,364.3L315.0,364.3L315.5,364.2L316.0,364.2L316.5,364.2L317.0,364.1L317.5,364.1L318.0,364.0L318.4,364.0L318.9,364.0L319.4,363.9L319.9,363.9L320.4,363.8L320.9,363.8L321.4,363.8L321.9,363.7L322.4,363.7L322.9,363.7L323.4,363.6L323.9,363.6L324.4,363.5L324.9,363.5L325.4,363.5L326.0,363.4L326.5,363.4L327.0,363.4L327.4,363.3L327.9,363.3L328.4,363.3L328.9,363.2L329.4,363.2L329.9,363.2L330.3,363.2L330.8,363.2L331.3,363.2L331.8,363.2L332.3,363.2L332.8,363.1L333.3,363.0L333.8,362.9L334.3,362.7L334.8,362.5L335.3,362.3L335.8,362.2L336.4,362.2L336.9,362.2L337.4,362.3L337.9,362.5L338.4,362.7L338.9,362.9L339.5,363.0L340.0,363.2L340.5,363.2L341.0,363.2L341.4,363.1L341.9,363.0L342.4,362.8L342.9,362.6L343.4,362.4L343.9,362.1L344.4,362.0L344.9,361.8L345.4,361.7L345.9,361.7L346.4,361.8L346.9,361.9L347.4,362.1L347.9,362.2L348.4,362.4L348.9,362.6L349.4,362.8L349.9,362.8L350.5,362.9L351.0,362.8L351.5,362.7L352.0,362.5L352.5,362.3L353.0,362.1L353.5,361.8L354.0,361.7L354.5,361.5L355.0,361.5L355.5,361.5L356.0,361.5L356.5,361.6L357.0,361.8L357.5,362.0L358.0,362.2L358.5,362.4L359.0,362.6L359.5,362.7L360.0,362.7L360.5,362.7L361.0,362.6L361.5,362.4L362.0,362.2L362.5,362.0L363.0,361.8L363.5,361.6L364.0,361.5L364.5,361.4L365.0,361.4L365.5,361.5L366.0,361.6L366.5,361.8L367.0,362.0L367.5,362.2L368.0,362.4L368.5,362.6L369.0,362.7L369.5,362.7L370.0,362.7L370.5,362.6L371.0,362.5L371.5,362.3L372.0,362.1L372.5,361.9L373.0,361.7L373.5,361.6L374.0,361.5L374.5,361.5L375.0,361.6L375.5,361.7L376.0,361.9L376.5,362.1L377.0,362.3L377.5,362.5L378.0,362.7L378.5,362.8L379.0,362.9L379.5,362.9L380.0,362.9L380.5,362.7L381.0,362.6L381.5,362.4L382.0,362.2L382.5,362.0L383.0,361.9L383.5,361.8L384.0,361.8L384.5,361.9L385.0,362.0L385.5,362.2L386.0,362.4L386.5,362.6L387.1,362.9L387.6,363.1L388.1,363.3L388.7,363.4L389.2,363.4L389.8,363.3L390.3,363.2L390.9,363.0L391.4,362.9L392.0,362.7L392.5,362.6L393.0,362.5L393.6,362.5L394.1,362.6L394.6,362.7L395.1,362.9L395.6,363.2L396.1,363.4L396.6,363.6L397.1,363.8L397.6,364.0L398.0,364.1L398.4,364.2L398.9,364.2L399.3,364.1L399.6,364.0L400.0,363.9L400.8,363.6L401.5,363.3L402.0,363.1L402.5,363.0L402.9,362.9L403.3,362.8L403.7,362.8L404.0,362.9L404.5,362.9L405.0,363.1L405.6,363.4L406.3,363.7L406.7,363.9L407.1,364.0L407.5,364.1L408.0,364.2L408.4,364.2L408.9,364.1L409.4,364.0L409.9,363.9L410.4,363.8L410.9,363.7L411.5,363.7L412.0,363.8L412.5,363.9L413.1,364.0L413.6,364.1L414.2,364.2L414.7,364.3L415.3,364.3L415.8,364.4L416.4,364.5L416.9,364.5L417.4,364.6L418.0,364.6L418.5,364.7L419.0,364.7L419.5,364.7L419.9,364.8L420.2,364.8L420.5,364.8L420.7,364.9L420.9,364.9L421.1,364.9L421.3,365.0L421.4,365.0L421.6,365.0L421.8,365.0L422.0,365.1L422.3,365.1L422.6,365.1L422.9,365.1L423.3,365.1L423.8,365.2L424.4,365.2L425.1,365.2L425.8,365.2L426.7,365.2L427.7,365.2L428.9,365.3L430.2,365.3L431.6,365.3L431.9,365.3L432.2,365.3L432.5,365.3L432.9,365.3L433.2,365.3L433.5,365.3L433.9,365.3L434.2,365.3L434.6,365.3L434.9,365.3L435.3,365.3L435.7,365.3L436.0,365.3L436.4,365.3L436.8,365.4L437.2,365.4L437.6,365.4L438.0,365.4L438.4,365.4L438.8,365.4L439.2,365.4L439.7,365.4L440.1,365.4L440.5,365.4L440.9,365.4L441.4,365.4L441.8,365.4L442.3,365.4L442.7,365.4L443.2,365.4L443.7,365.4L444.1,365.4L444.6,365.4L445.1,365.4L445.5,365.4L446.0,365.4L446.5,365.4L447.0,365.4L447.5,365.4L448.0,365.4L448.5,365.4L449.0,365.4L449.5,365.4L450.0,365.4L450.5,365.4L451.0,365.5L451.5,365.5L452.1,365.5L452.6,365.5L453.1,365.5L453.6,365.5L454.2,365.5L454.7,365.5L455.2,365.5L455.8,365.5L456.3,365.5L456.9,365.5L457.4,365.5L457.9,365.5L458.5,365.5L459.0,365.5L459.6,365.5L460.1,365.5L460.7,365.5L461.3,365.5L461.8,365.5L462.4,365.5L462.9,365.5L463.5,365.5L464.1,365.5L464.6,365.5L465.2,365.5L465.8,365.5L466.3,365.5L466.9,365.5L467.5,365.5L468.0,365.5L468.6,365.5L469.2,365.5L469.7,365.5L470.3,365.5L470.9,365.5L471.4,365.5L472.0,365.5L472.6,365.6L473.2,365.6L473.7,365.6L474.3,365.6L474.9,365.6L475.4,365.6L476.0,365.6L476.6,365.6L477.1,365.6L477.7,365.6L478.3,365.6L478.8,365.6L479.4,365.6L480.0,365.6L480.5,365.6L481.1,365.6L481.6,365.6L482.2,365.6L482.8,365.6L483.3,365.6L483.9,365.6L484.4,365.6L485.0,365.6L485.5,365.6L486.1,365.6L486.6,365.6L487.2,365.6L487.7,365.6L488.2,365.6L488.8,365.6L489.3,365.6L489.8,365.6L490.4,365.6L490.9,365.6L491.4,365.6L491.9,365.6L492.5,365.6L493.0,365.6L493.5,365.6L494.0,365.6L494.5,365.6L495.0,365.6L495.5,365.6L496.0,365.6L496.5,365.6L497.0,365.6L497.5,365.6L498.0,365.6L498.6,365.6L499.1,365.6L499.6,365.6L500.1,365.6L500.6,365.6L501.2,365.6L501.7,365.6L502.2,365.6L502.8,365.6L503.3,365.6L503.8,365.6L504.4,365.6L504.9,365.6L505.4,365.6L506.0,365.6L506.5,365.6L507.0,365.6L507.6,365.6L508.1,365.6L508.7,365.6L509.2,365.6L509.8,365.6L510.3,365.6L510.8,365.6L511.4,365.6L511.9,365.6L512.5,365.6L513.0,365.6L513.6,365.6L514.1,365.6L514.7,365.5L515.2,365.5L515.8,365.5L516.3,365.5L516.9,365.5L517.4,365.5L518.0,365.5L518.5,365.5L519.1,365.5L519.6,365.5L520.2,365.5L520.7,365.5L521.3,365.5L521.8,365.5L522.4,365.5L522.9,365.5L523.5,365.5L524.0,365.5L524.6,365.5L525.1,365.5L525.7,365.5L526.2,365.5L526.7,365.5L527.3,365.5L527.8,365.5L528.4,365.5L528.9,365.5L529.4,365.5L530.0,365.5L530.5,365.5L531.0,365.5L531.6,365.5L532.1,365.5L532.6,365.4L533.2,365.4L533.7,365.4L534.2,365.4L534.7,365.4L535.2,365.4L535.8,365.4L536.3,365.4L536.8,365.4L537.3,365.4L537.8,365.4L538.3,365.4L538.8,365.4L539.3,365.4L539.8,365.4L540.3,365.4L540.8,365.4L541.3,365.4L541.8,365.4L542.3,365.4L542.8,365.4L543.3,365.4L543.7,365.4L544.2,365.4L544.7,365.4L545.2,365.4L545.6,365.4L546.1,365.4L546.6,365.4L547.0,365.4L547.5,365.4L547.9,365.4L548.4,365.4L548.8,365.4L549.3,365.4L549.7,365.4L550.1,365.4L550.6,365.4L551.0,365.4L551.4,365.4L551.8,365.4L552.3,365.4L552.7,365.4L553.1,365.4L553.5,365.4L553.9,365.4L554.3,365.4L554.7,365.4L555.1,365.4L555.4,365.4L555.8,365.4L556.2,365.4L556.6,365.4L556.9,365.4L557.3,365.4L557.6,365.4L558.0,365.4L558.9,365.4L559.7,365.4L560.5,365.4L561.4,365.4L562.2,365.4L562.9,365.5L563.7,365.5L564.4,365.5L565.1,365.5L565.8,365.5L566.5,365.5L567.2,365.5L567.8,365.6L568.5,365.6L569.1,365.6L569.7,365.6L570.3,365.6L570.8,365.6L571.4,365.7L571.9,365.7L572.5,365.7L573.0,365.7L573.5,365.7L574.0,365.8L574.4,365.8L574.9,365.8L575.3,365.8L575.8,365.8L576.2,365.9L576.6,365.9L577.0,365.9L577.4,365.9L577.8,365.9L578.2,366.0L578.5,366.0L578.9,366.0L579.2,366.0L579.6,366.0L579.9,366.1L580.2,366.1L580.5,366.1L580.8,366.1L581.1,366.1L581.4,366.1L581.7,366.1L582.0,366.2L582.2,366.2L582.5,366.2L582.7,366.2L583.0,366.2" stroke="#000" stroke-width="1.75" fill="none" stroke-linejoin="round"/><g transform="translate(65.70,370.74) scale(1.0,1)"><text x="-27.11" y="0" font-family="Liberation Sans, sans-serif" font-weight="bold" font-size="19.5">0.0</text></g><g transform="translate(65.70,281.93) scale(1.0,1)"><text x="-27.11" y="0" font-family="Liberation Sans, sans-serif" font-weight="bold" font-size="19.5">0.5</text></g><g transform="translate(65.70,193.12) scale(1.0,1)"><path transform="translate(-27.108,0) scale(0.009521,-0.009521)" d="M842,0 L556,0 L556,1030 C455,940 330,880 176,840 L176,1095 C280,1130 380,1190 460,1260 C540,1330 590,1395 606,1409 L842,1409 Z"/><text x="-16.26" y="0" font-family="Liberation Sans, sans-serif" font-weight="bold" font-size="19.5">.0</text></g><g transform="translate(65.70,104.31) scale(1.0,1)"><path transform="translate(-27.108,0) scale(0.009521,-0.009521)" d="M842,0 L556,0 L556,1030 C455,940 330,880 176,840 L176,1095 C280,1130 380,1190 460,1260 C540,1330 590,1395 606,1409 L842,1409 Z"/><text x="-16.26" y="0" font-family="Liberation Sans, sans-serif" font-weight="bold" font-size="19.5">.5</text></g><g transform="translate(65.70,15.50) scale(1.0,1)"><text x="-27.11" y="0" font-family="Liberation Sans, sans-serif" font-weight="bold" font-size="19.5">2.0</text></g><g transform="translate(135.86,410.40) scale(1.0,1)"><path transform="translate(-16.267,0) scale(0.009521,-0.009521)" d="M842,0 L556,0 L556,1030 C455,940 330,880 176,840 L176,1095 C280,1130 380,1190 460,1260 C540,1330 590,1395 606,1409 L842,1409 Z"/><text x="-5.42" y="0" font-family="Liberation Sans, sans-serif" font-weight="bold" font-size="19.5">20</text></g><g transform="translate(225.65,410.40) scale(1.0,1)"><path transform="translate(-16.267,0) scale(0.009521,-0.009521)" d="M842,0 L556,0 L556,1030 C455,940 330,880 176,840 L176,1095 C280,1130 380,1190 460,1260 C540,1330 590,1395 606,1409 L842,1409 Z"/><text x="-5.42" y="0" font-family="Liberation Sans, sans-serif" font-weight="bold" font-size="19.5">40</text></g><g transform="translate(315.44,410.40) scale(1.0,1)"><path transform="translate(-16.267,0) scale(0.009521,-0.009521)" d="M842,0 L556,0 L556,1030 C455,940 330,880 176,840 L176,1095 C280,1130 380,1190 460,1260 C540,1330 590,1395 606,1409 L842,1409 Z"/><text x="-5.42" y="0" font-family="Liberation Sans, sans-serif" font-weight="bold" font-size="19.5">60</text></g><g transform="translate(405.22,410.40) scale(1.0,1)"><path transform="translate(-16.267,0) scale(0.009521,-0.009521)" d="M842,0 L556,0 L556,1030 C455,940 330,880 176,840 L176,1095 C280,1130 380,1190 460,1260 C540,1330 590,1395 606,1409 L842,1409 Z"/><text x="-5.42" y="0" font-family="Liberation Sans, sans-serif" font-weight="bold" font-size="19.5">80</text></g><g transform="translate(495.01,410.40) scale(1.0,1)"><text x="-16.27" y="0" font-family="Liberation Sans, sans-serif" font-weight="bold" font-size="19.5">200</text></g><g transform="translate(584.80,410.40) scale(1.0,1)"><text x="-16.27" y="0" font-family="Liberation Sans, sans-serif" font-weight="bold" font-size="19.5">220</text></g><text x="245.4" y="440.8" font-family="Liberation Sans, sans-serif" font-weight="bold" font-size="21.3">Wavelength<tspan dx="1.0">/</tspan><tspan dx="0.7">nm</tspan></text><text transform="translate(15.5,186.6) rotate(-90)" font-family="Liberation Sans, sans-serif" font-weight="bold" font-size="21.6" text-anchor="middle">Absorbance</text><rect x="297.1" y="36.6" width="261.4" height="290.2" fill="#fff"/><path d="M300.68,326.8v-5.8M300.68,36.6v5.8 M315.00,326.8v-5.8M315.00,36.6v5.8 M329.33,326.8v-5.8M329.33,36.6v5.8 M343.65,326.8v-11M343.65,36.6v11 M357.97,326.8v-5.8M357.97,36.6v5.8 M372.30,326.8v-5.8M372.30,36.6v5.8 M386.62,326.8v-5.8M386.62,36.6v5.8 M400.94,326.8v-5.8M400.94,36.6v5.8 M415.27,326.8v-11M415.27,36.6v11 M429.59,326.8v-5.8M429.59,36.6v5.8 M443.91,326.8v-5.8M443.91,36.6v5.8 M458.24,326.8v-5.8M458.24,36.6v5.8 M472.56,326.8v-5.8M472.56,36.6v5.8 M486.88,326.8v-11M486.88,36.6v11 M501.21,326.8v-5.8M501.21,36.6v5.8 M515.53,326.8v-5.8M515.53,36.6v5.8 M529.85,326.8v-5.8M529.85,36.6v5.8 M544.18,326.8v-5.8M544.18,36.6v5.8 M297.1,300.42h7.4M558.5,300.42h-7.4 M297.1,256.45h4M558.5,256.45h-4 M297.1,212.48h7.4M558.5,212.48h-7.4 M297.1,168.51h4M558.5,168.51h-4 M297.1,124.54h7.4M558.5,124.54h-7.4 M297.1,80.57h4M558.5,80.57h-4" stroke="#000" stroke-width="1.7" fill="none"/><rect x="297.1" y="36.6" width="261.4" height="290.2" stroke="#000" stroke-width="2" fill="none"/><path d="M297.5,79.0L297.5,79.3L297.5,79.6L297.5,79.9L297.5,80.2L297.6,80.6L297.6,81.0L297.6,81.4L297.6,81.8L297.6,82.2L297.6,82.7L297.7,83.2L297.7,83.7L297.7,84.2L297.7,84.7L297.7,85.2L297.7,85.8L297.8,86.3L297.8,86.9L297.8,87.5L297.8,88.0L297.9,88.6L297.9,89.2L297.9,89.8L297.9,90.4L297.9,91.0L298.0,91.6L298.0,92.2L298.0,92.7L298.0,93.3L298.0,93.9L298.1,94.5L298.1,95.0L298.1,95.6L298.1,96.1L298.2,96.7L298.2,97.2L298.2,97.7L298.2,98.2L298.2,98.7L298.3,99.1L298.3,99.6L298.3,100.0L298.3,100.6L298.4,101.2L298.4,101.8L298.4,102.4L298.4,103.0L298.5,103.5L298.5,104.1L298.5,104.6L298.6,105.1L298.6,105.6L298.6,106.1L298.6,106.6L298.7,107.1L298.7,107.6L298.7,108.1L298.8,108.6L298.8,109.0L298.8,109.5L298.9,110.0L298.9,110.4L298.9,110.9L298.9,111.3L299.0,111.8L299.0,112.2L299.0,112.7L299.0,113.1L299.1,113.6L299.1,114.0L299.1,114.6L299.2,115.1L299.2,115.6L299.2,116.2L299.3,116.7L299.3,117.2L299.3,117.7L299.3,118.1L299.4,118.6L299.4,119.1L299.4,119.6L299.5,120.0L299.5,120.5L299.5,121.0L299.5,121.5L299.6,121.9L299.6,122.4L299.6,122.9L299.7,123.4L299.7,123.9L299.8,124.5L299.8,125.0L299.8,125.5L299.9,125.9L299.9,126.4L300.0,126.9L300.0,127.4L300.0,127.9L300.1,128.4L300.1,128.9L300.2,129.4L300.2,129.9L300.3,130.5L300.3,131.0L300.4,131.5L300.4,132.0L300.5,132.5L300.5,133.1L300.6,133.6L300.6,134.1L300.7,134.6L300.7,135.1L300.8,135.6L300.8,136.1L300.9,136.6L300.9,137.1L301.0,137.5L301.0,138.0L301.1,138.5L301.1,139.1L301.2,139.6L301.2,140.2L301.3,140.8L301.3,141.3L301.4,141.9L301.4,142.4L301.5,142.9L301.5,143.5L301.6,144.0L301.7,144.5L301.7,145.0L301.8,145.5L301.8,146.0L301.9,146.5L301.9,146.9L302.0,147.4L302.0,147.8L302.1,148.2L302.1,148.6L302.2,149.0L302.3,149.8L302.4,150.4L302.6,151.0L302.7,151.5L302.8,152.0L302.9,152.4L303.0,152.8L303.1,153.2L303.3,153.6L303.4,154.0L303.6,154.5L303.9,154.9L304.1,155.2L304.3,155.6L304.6,156.2L304.8,157.0L304.9,157.3L304.9,157.7L305.0,158.0L305.1,158.4L305.1,158.8L305.2,159.2L305.2,159.6L305.3,160.0L305.4,160.5L305.4,161.0L305.5,161.5L305.5,162.0L305.6,162.6L305.7,163.2L305.7,163.9L305.8,164.5L305.8,165.2L305.9,166.0L305.9,166.4L306.0,166.8L306.0,167.1L306.0,167.6L306.0,168.0L306.1,168.4L306.1,168.8L306.1,169.2L306.1,169.7L306.2,170.1L306.2,170.6L306.2,171.1L306.3,171.5L306.3,172.0L306.3,172.5L306.3,173.0L306.4,173.5L306.4,174.0L306.4,174.5L306.4,175.0L306.5,175.6L306.5,176.1L306.5,176.6L306.6,177.2L306.6,177.7L306.6,178.2L306.6,178.8L306.7,179.3L306.7,179.9L306.7,180.5L306.8,181.0L306.8,181.6L306.8,182.1L306.9,182.7L306.9,183.3L306.9,183.9L307.0,184.4L307.0,185.0L307.0,185.4L307.1,185.9L307.1,186.4L307.1,186.8L307.1,187.3L307.2,187.8L307.2,188.3L307.2,188.8L307.3,189.3L307.3,189.8L307.3,190.3L307.4,190.8L307.4,191.3L307.4,191.9L307.5,192.4L307.5,192.9L307.5,193.4L307.6,194.0L307.6,194.5L307.6,195.0L307.7,195.6L307.7,196.1L307.7,196.6L307.8,197.2L307.8,197.7L307.8,198.3L307.9,198.8L307.9,199.3L307.9,199.9L308.0,200.4L308.0,200.9L308.0,201.5L308.1,202.0L308.1,202.5L308.2,203.0L308.2,203.5L308.2,204.0L308.3,204.5L308.3,205.0L308.3,205.5L308.4,206.0L308.4,206.5L308.4,207.0L308.4,207.5L308.5,207.9L308.5,208.4L308.5,208.8L308.6,209.3L308.6,209.7L308.6,210.3L308.7,210.9L308.7,211.5L308.8,212.1L308.8,212.6L308.8,213.2L308.9,213.7L308.9,214.2L309.0,214.7L309.0,215.3L309.0,215.3L309.1,215.8L309.1,217.0L309.1,216.3L309.2,217.7L309.2,217.3L309.2,219.1L309.3,219.2L309.3,220.1L309.4,219.9L309.4,220.7L309.4,220.9L309.5,221.2L309.5,222.0L309.5,221.9L309.6,222.8L309.6,223.7L309.7,223.9L309.7,224.2L309.7,225.8L309.8,225.4L309.8,225.7L309.9,226.5L309.9,226.8L309.9,227.3L310.0,227.8L310.0,229.3L310.1,229.0L310.1,229.5L310.1,230.2L310.2,231.3L310.2,230.9L310.3,231.3L310.3,233.1L310.3,232.0L310.4,233.0L310.4,233.9L310.5,235.1L310.5,234.4L310.6,234.3L310.6,236.1L310.6,236.1L310.7,236.7L310.7,237.6L310.8,238.1L310.8,238.6L310.9,238.9L310.9,240.1L311.0,240.7L311.0,240.6L311.0,240.9L311.1,241.9L311.1,242.3L311.2,242.2L311.2,242.9L311.3,244.0L311.3,244.0L311.4,244.4L311.4,245.1L311.5,245.4L311.5,245.9L311.6,245.5L311.6,247.4L311.7,247.4L311.8,247.6L311.8,249.0L311.9,249.3L312.0,249.8L312.1,250.8L312.1,251.8L312.2,251.7L312.3,252.6L312.4,253.3L312.5,252.6L312.6,253.3L312.6,254.3L312.7,253.7L312.8,254.8L312.9,255.9L313.0,256.2L313.1,256.5L313.2,256.0L313.2,258.1L313.3,257.8L313.4,258.4L313.5,258.7L313.6,258.3L313.7,259.0L313.8,259.6L313.9,261.4L314.1,260.8L314.2,261.6L314.3,262.1L314.4,263.0L314.5,263.5L314.6,263.9L314.8,263.8L314.9,263.5L315.0,265.3L315.1,265.8L315.3,266.7L315.4,266.6L315.5,266.9L315.6,267.7L315.8,267.4L315.9,268.0L316.0,268.5L316.2,269.6L316.3,270.8L316.5,270.8L316.7,271.5L316.8,271.6L317.0,272.1L317.2,272.3L317.3,272.8L317.5,272.4L317.7,273.3L317.8,273.8L318.0,275.1L318.2,275.5L318.3,276.2L318.5,276.9L318.6,276.6L318.8,277.7L318.9,278.5L319.1,278.2L319.2,279.2L319.4,279.2L319.5,279.2L319.7,280.4L319.8,280.6L319.9,281.5L320.1,281.7L320.2,282.6L320.4,282.1L320.5,284.2L320.6,284.4L320.8,284.1L320.9,284.3L321.0,285.0L321.3,286.1L321.6,286.6L321.8,287.2L322.0,286.7L322.3,287.4L322.5,288.8L322.7,288.7L323.2,288.8L323.5,289.6L323.9,289.3L324.0,289.2L324.1,289.7L324.2,288.6L324.3,288.6L324.4,287.6L324.5,286.2L324.7,285.9L324.8,286.7L325.0,285.0L325.2,284.4L325.4,284.8L325.6,283.9L325.8,283.3L326.0,283.4L326.2,281.6L326.4,281.9L326.6,280.8L326.8,280.1L326.9,279.9L327.0,280.1L327.2,279.0L327.3,277.7L327.5,277.5L327.6,278.0L327.8,277.2L327.9,275.9L328.1,276.8L328.2,275.3L328.4,274.6L328.9,274.5L329.4,274.8L329.9,275.0L330.4,274.6L330.8,273.6L331.0,273.3L331.1,272.6L331.2,272.8L331.3,272.2L331.4,272.1L331.6,271.0L331.7,270.8L331.8,270.1L331.9,269.2L332.1,268.4L332.2,268.1L332.3,267.7L332.3,267.9L332.4,267.3L332.5,266.2L332.6,266.5L332.7,265.9L332.8,265.8L332.9,264.6L333.0,264.0L333.1,263.3L333.2,263.0L333.3,262.6L333.4,261.9L333.5,261.2L333.6,260.9L333.7,260.2L333.8,259.7L333.9,258.7L334.0,258.7L334.1,257.8L334.2,257.4L334.3,257.4L334.4,257.8L334.5,257.0L334.8,255.8L335.1,255.1L335.5,255.2L335.8,255.1L336.1,254.8L336.4,253.9L336.7,253.6L337.0,252.8L337.1,252.4L337.2,251.8L337.3,251.6L337.4,250.4L337.5,250.3L337.6,250.5L337.7,249.4L337.8,249.5L337.9,248.2L338.0,248.0L338.1,247.8L338.2,246.6L338.3,246.2L338.4,247.0L338.5,245.1L338.6,244.6L338.7,244.1L338.8,243.8L338.9,243.3L339.0,243.2L339.1,242.6L339.2,241.6L339.3,241.0L339.4,240.1L339.5,239.5L339.6,239.2L339.7,239.3L339.8,238.5L339.9,238.2L340.0,237.8L340.1,236.8L340.2,237.2L340.3,235.7L340.4,235.2L340.5,234.9L340.6,235.2L340.7,234.3L341.0,233.0L341.2,232.7L341.4,232.6L341.6,231.8L341.9,231.8L342.1,232.6L342.3,233.3L342.5,234.1L342.7,234.3L342.9,235.5L343.1,236.1L343.4,235.3L343.6,236.1L343.7,235.4L343.7,235.0L343.8,235.8L343.8,234.6L343.9,233.9L344.0,233.8L344.0,233.6L344.1,233.3L344.1,232.4L344.2,231.6L344.3,231.2L344.3,230.6L344.4,230.0L344.5,229.8L344.5,229.1L344.6,228.7L344.7,227.8L344.7,227.1L344.8,226.8L344.9,226.1L344.9,226.2L345.0,224.7L345.1,224.6L345.1,223.9L345.2,222.8L345.2,223.0L345.3,222.2L345.4,220.8L345.4,221.3L345.5,221.0L345.5,219.7L345.6,220.3L345.7,219.1L345.7,218.0L345.8,218.1L345.9,217.1L345.9,216.1L346.0,215.2L346.1,215.6L346.1,214.6L346.2,214.5L346.3,213.8L346.3,212.8L346.4,212.2L346.4,212.6L346.5,212.0L346.6,211.0L346.6,210.0L346.7,209.3L346.8,209.0L346.8,209.4L346.9,208.4L346.9,207.7L347.0,206.9L347.1,207.1L347.1,206.4L347.2,206.5L347.2,206.5L347.3,206.4L347.5,205.7L347.7,205.8L348.0,206.8L348.2,208.4L348.4,208.7L348.6,208.8L348.8,210.3L349.1,209.8L349.3,211.0L349.6,208.9L349.8,208.3L350.1,207.2L350.2,207.1L350.3,206.4L350.3,205.7L350.4,205.1L350.5,205.4L350.6,204.8L350.7,204.4L350.8,205.0L350.9,204.0L351.0,203.6L351.1,202.4L351.2,202.2L351.3,201.5L351.4,200.9L351.4,200.7L351.5,200.1L351.6,199.4L351.7,198.7L351.7,197.4L351.8,197.1L351.8,197.1L351.9,196.4L351.9,195.7L351.9,195.7L352.0,194.7L352.0,194.3L352.0,194.1L352.0,193.5L352.0,193.0L352.1,192.5L352.1,191.9L352.1,191.4L352.1,190.8L352.1,190.2L352.1,189.7L352.2,189.1L352.2,188.6L352.2,188.0L352.2,187.5L352.2,186.9L352.2,186.4L352.3,185.9L352.3,185.4L352.3,184.9L352.3,184.4L352.4,183.9L352.4,183.5L352.4,183.0L352.5,182.6L352.5,182.2L352.6,181.5L352.7,180.7L352.8,179.9L352.9,179.2L353.0,178.4L353.1,177.7L353.2,177.0L353.4,176.4L353.5,175.8L353.6,175.3L353.8,174.9L353.9,174.5L354.0,174.3L354.2,174.1L354.3,174.1L354.4,174.2L354.5,174.3L354.5,174.6L354.6,174.9L354.7,175.2L354.8,175.6L354.8,176.1L354.9,176.6L355.0,177.2L355.0,177.8L355.1,178.4L355.2,179.1L355.3,179.7L355.3,180.4L355.4,181.1L355.5,181.8L355.5,182.4L355.6,183.1L355.7,183.7L355.8,184.3L355.8,184.9L355.9,185.5L356.0,186.0L356.0,186.4L356.1,186.8L356.2,187.2L356.2,187.4L356.3,187.6L356.5,187.9L356.6,188.0L356.7,187.9L356.9,187.7L357.0,187.3L357.2,186.8L357.3,186.1L357.5,185.3L357.6,184.4L357.7,183.4L357.9,182.2L357.9,181.9L358.0,181.5L358.0,181.2L358.1,180.8L358.1,180.4L358.1,179.9L358.2,179.5L358.2,179.0L358.3,178.6L358.3,178.1L358.4,177.6L358.4,177.1L358.5,176.5L358.5,176.0L358.5,175.5L358.6,174.9L358.6,174.4L358.7,173.8L358.7,173.2L358.8,172.6L358.8,172.1L358.9,171.5L358.9,170.9L358.9,170.3L359.0,169.8L359.0,169.2L359.1,168.6L359.1,168.0L359.2,167.5L359.2,166.9L359.3,166.4L359.3,165.8L359.4,165.3L359.4,164.8L359.4,164.3L359.5,163.8L359.5,163.3L359.6,162.8L359.6,162.3L359.7,161.9L359.7,161.5L359.8,161.1L359.8,160.7L359.9,159.9L360.0,159.2L360.1,158.4L360.2,157.7L360.3,157.0L360.4,156.3L360.4,155.6L360.5,154.9L360.6,154.3L360.7,153.7L360.8,153.1L360.9,152.6L361.0,152.1L361.1,151.7L361.2,151.3L361.3,150.9L361.4,150.6L361.4,150.4L361.5,150.2L361.6,150.1L361.7,150.0L361.8,150.0L361.9,150.1L362.0,150.4L362.1,150.7L362.2,151.1L362.2,151.5L362.3,152.0L362.4,152.6L362.5,153.2L362.6,153.9L362.7,154.5L362.7,155.2L362.8,155.8L362.9,156.5L363.0,157.2L363.1,157.8L363.1,158.4L363.2,158.9L363.3,159.4L363.4,160.0L363.5,160.7L363.6,161.4L363.6,162.2L363.7,163.0L363.8,163.9L363.9,164.7L363.9,165.4L364.0,166.1L364.1,166.7L364.2,167.2L364.2,167.6L364.3,167.8L364.4,167.9L364.5,167.7L364.6,167.4L364.6,167.2L364.7,167.0L364.7,166.8L364.7,166.5L364.8,166.3L364.8,166.0L364.9,165.7L364.9,165.3L364.9,165.0L365.0,164.6L365.0,164.2L365.1,163.8L365.1,163.3L365.1,162.9L365.2,162.4L365.2,162.0L365.3,161.5L365.3,161.0L365.4,160.4L365.4,159.9L365.4,159.4L365.5,158.8L365.5,158.2L365.6,157.7L365.6,157.1L365.7,156.5L365.7,155.9L365.8,155.3L365.8,154.7L365.8,154.0L365.9,153.4L365.9,152.8L366.0,152.2L366.0,151.5L366.1,150.9L366.1,150.3L366.2,149.6L366.2,149.0L366.2,148.4L366.3,147.7L366.3,147.1L366.4,146.5L366.4,145.8L366.5,145.2L366.5,144.6L366.5,144.2L366.6,143.7L366.6,143.2L366.6,142.8L366.6,142.3L366.7,141.8L366.7,141.3L366.7,140.7L366.8,140.2L366.8,139.6L366.8,139.1L366.9,138.5L366.9,137.9L366.9,137.4L367.0,136.8L367.0,136.2L367.0,135.6L367.0,135.0L367.1,134.4L367.1,133.8L367.1,133.1L367.2,132.5L367.2,131.9L367.2,131.3L367.3,130.7L367.3,130.1L367.3,129.4L367.3,128.8L367.4,128.2L367.4,127.6L367.4,127.0L367.5,126.4L367.5,125.8L367.5,125.2L367.6,124.6L367.6,124.0L367.6,123.4L367.6,122.8L367.7,122.2L367.7,121.7L367.7,121.1L367.8,120.6L367.8,120.1L367.8,119.5L367.9,119.0L367.9,118.5L367.9,118.0L367.9,117.6L368.0,117.1L368.0,116.7L368.0,116.2L368.1,115.8L368.1,115.4L368.1,115.1L368.1,114.7L368.2,114.3L368.2,114.0L368.2,113.7L368.3,113.4L368.3,113.2L368.3,112.9L368.3,112.7L368.4,112.5L368.4,112.3L368.5,111.9L368.6,111.6L368.6,111.4L368.7,111.4L368.8,111.5L368.9,111.7L368.9,112.1L369.0,112.5L369.1,113.0L369.2,113.6L369.2,114.3L369.3,115.0L369.4,115.8L369.5,116.6L369.5,117.5L369.6,118.4L369.7,119.3L369.8,120.2L369.8,121.2L369.9,122.1L370.0,123.0L370.0,123.4L370.1,123.7L370.1,124.1L370.1,124.6L370.2,125.0L370.2,125.5L370.2,125.9L370.3,126.4L370.3,126.9L370.3,127.5L370.4,128.0L370.4,128.5L370.4,129.1L370.5,129.6L370.5,130.2L370.6,130.8L370.6,131.4L370.6,132.0L370.7,132.6L370.7,133.2L370.7,133.8L370.8,134.4L370.8,135.0L370.8,135.7L370.9,136.3L370.9,136.9L370.9,137.5L371.0,138.1L371.0,138.7L371.1,139.3L371.1,139.9L371.1,140.5L371.2,141.1L371.2,141.7L371.2,142.2L371.3,142.8L371.3,143.3L371.3,143.9L371.4,144.4L371.4,144.9L371.5,145.4L371.5,145.9L371.5,146.3L371.6,146.8L371.6,147.2L371.6,147.6L371.7,148.0L371.7,148.3L371.7,148.7L371.8,149.0L371.8,149.3L371.8,149.5L371.9,149.8L371.9,150.0L372.1,150.8L372.2,151.4L372.4,151.6L372.5,151.6L372.7,151.3L372.8,150.7L373.0,149.9L373.1,148.9L373.2,147.7L373.4,146.2L373.5,144.6L373.5,144.3L373.5,144.0L373.6,143.6L373.6,143.3L373.6,142.9L373.6,142.5L373.6,142.1L373.7,141.7L373.7,141.3L373.7,140.9L373.7,140.4L373.7,140.0L373.8,139.5L373.8,139.0L373.8,138.5L373.8,138.0L373.8,137.5L373.8,137.0L373.9,136.4L373.9,135.9L373.9,135.4L373.9,134.8L373.9,134.3L373.9,133.7L374.0,133.1L374.0,132.5L374.0,132.0L374.0,131.4L374.0,130.8L374.0,130.2L374.1,129.6L374.1,129.0L374.1,128.4L374.1,127.9L374.1,127.3L374.1,126.7L374.1,126.1L374.2,125.5L374.2,124.9L374.2,124.3L374.2,123.7L374.2,123.2L374.2,122.6L374.3,122.0L374.3,121.4L374.3,120.9L374.3,120.3L374.3,119.8L374.3,119.2L374.4,118.7L374.4,118.2L374.4,117.7L374.4,117.1L374.4,116.7L374.4,116.2L374.5,115.7L374.5,115.2L374.5,114.8L374.5,114.3L374.5,113.9L374.5,113.5L374.6,113.1L374.6,112.7L374.6,112.3L374.6,111.5L374.7,110.7L374.7,109.9L374.8,109.1L374.8,108.4L374.9,107.6L374.9,106.9L374.9,106.2L375.0,105.5L375.0,104.9L375.1,104.2L375.1,103.6L375.2,103.0L375.2,102.4L375.3,101.9L375.3,101.3L375.3,100.8L375.4,100.4L375.4,99.9L375.5,99.5L375.5,99.2L375.6,98.8L375.6,98.5L375.7,98.2L375.7,98.0L375.8,97.8L375.8,97.7L375.9,97.6L375.9,97.5L376.0,97.5L376.0,97.5L376.1,97.6L376.1,97.7L376.2,97.9L376.2,98.2L376.3,98.4L376.4,98.8L376.4,99.2L376.5,99.6L376.5,100.1L376.6,100.6L376.6,101.1L376.7,101.7L376.8,102.4L376.8,103.0L376.9,103.8L376.9,104.5L377.0,105.3L377.1,106.1L377.1,106.9L377.2,107.8L377.2,108.7L377.3,109.6L377.3,110.0L377.3,110.3L377.4,110.7L377.4,111.1L377.4,111.6L377.4,112.0L377.5,112.5L377.5,112.9L377.5,113.4L377.5,113.9L377.6,114.4L377.6,114.9L377.6,115.5L377.6,116.0L377.7,116.6L377.7,117.1L377.7,117.7L377.7,118.3L377.8,118.9L377.8,119.5L377.8,120.1L377.8,120.7L377.9,121.3L377.9,121.9L377.9,122.6L377.9,123.2L378.0,123.8L378.0,124.4L378.0,125.1L378.0,125.7L378.1,126.3L378.1,126.9L378.1,127.5L378.1,128.2L378.2,128.8L378.2,129.4L378.2,130.0L378.2,130.6L378.3,131.2L378.3,131.8L378.3,132.4L378.3,132.9L378.4,133.5L378.4,134.1L378.4,134.6L378.4,135.1L378.5,135.7L378.5,136.2L378.5,136.7L378.5,137.1L378.6,137.6L378.6,138.1L378.6,138.5L378.6,138.9L378.7,139.3L378.7,139.7L378.7,140.1L378.7,140.4L378.8,140.8L378.8,141.1L378.8,141.4L378.8,141.6L378.9,141.9L378.9,142.1L378.9,142.3L379.0,142.9L379.1,143.3L379.2,143.5L379.3,143.5L379.4,143.4L379.5,143.1L379.6,142.7L379.7,142.1L379.8,141.4L379.9,140.7L380.0,139.8L380.1,138.9L380.2,137.9L380.2,136.9L380.3,135.9L380.4,134.8L380.5,133.8L380.5,133.5L380.6,133.1L380.6,132.7L380.6,132.3L380.6,132.0L380.6,131.5L380.7,131.1L380.7,130.7L380.7,130.2L380.7,129.8L380.8,129.3L380.8,128.8L380.8,128.4L380.8,127.9L380.8,127.4L380.9,126.8L380.9,126.3L380.9,125.8L380.9,125.3L380.9,124.7L381.0,124.2L381.0,123.6L381.0,123.1L381.0,122.5L381.0,122.0L381.1,121.4L381.1,120.8L381.1,120.3L381.1,119.7L381.1,119.1L381.2,118.6L381.2,118.0L381.2,117.4L381.2,116.9L381.2,116.3L381.2,115.7L381.3,115.2L381.3,114.6L381.3,114.1L381.3,113.5L381.3,113.0L381.4,112.4L381.4,111.9L381.4,111.3L381.4,110.8L381.4,110.3L381.5,109.8L381.5,109.3L381.5,108.8L381.5,108.3L381.6,107.8L381.6,107.4L381.6,106.9L381.6,106.3L381.7,105.7L381.7,105.1L381.7,104.5L381.7,103.9L381.8,103.3L381.8,102.7L381.8,102.1L381.9,101.4L381.9,100.8L381.9,100.2L381.9,99.6L382.0,98.9L382.0,98.3L382.0,97.7L382.1,97.1L382.1,96.5L382.1,95.8L382.1,95.3L382.2,94.7L382.2,94.1L382.2,93.5L382.3,93.0L382.3,92.4L382.3,91.9L382.4,91.4L382.4,90.9L382.4,90.4L382.4,89.9L382.5,89.5L382.5,89.0L382.5,88.6L382.6,88.2L382.6,87.9L382.6,87.5L382.7,87.2L382.7,86.9L382.8,86.7L382.8,86.4L382.8,86.2L382.9,86.0L382.9,85.9L383.0,85.7L383.1,85.5L383.2,85.5L383.2,85.5L383.3,85.6L383.4,85.8L383.5,86.1L383.6,86.4L383.7,86.8L383.8,87.3L383.9,87.9L384.0,88.5L384.1,89.3L384.2,90.0L384.3,90.9L384.4,91.8L384.5,92.8L384.6,93.8L384.7,94.9L384.8,96.1L384.8,96.4L384.8,96.8L384.9,97.1L384.9,97.5L384.9,97.9L384.9,98.3L385.0,98.7L385.0,99.1L385.0,99.6L385.0,100.0L385.1,100.5L385.1,101.0L385.1,101.4L385.1,101.9L385.2,102.4L385.2,102.9L385.2,103.5L385.2,104.0L385.3,104.5L385.3,105.1L385.3,105.6L385.3,106.2L385.3,106.8L385.4,107.3L385.4,107.9L385.4,108.5L385.4,109.1L385.5,109.7L385.5,110.3L385.5,110.9L385.5,111.5L385.6,112.1L385.6,112.7L385.6,113.3L385.6,113.9L385.6,114.5L385.7,115.1L385.7,115.7L385.7,116.3L385.7,116.9L385.8,117.5L385.8,118.1L385.8,118.7L385.8,119.3L385.8,119.9L385.9,120.5L385.9,121.1L385.9,121.6L385.9,122.2L386.0,122.8L386.0,123.3L386.0,123.9L386.0,124.4L386.0,125.0L386.1,125.5L386.1,126.0L386.1,126.6L386.1,127.1L386.1,127.6L386.1,128.0L386.2,128.5L386.2,129.0L386.2,129.4L386.2,129.9L386.2,130.3L386.3,130.7L386.3,131.1L386.3,131.5L386.3,131.9L386.3,132.2L386.3,132.6L386.4,132.9L386.4,133.2L386.4,133.5L386.4,133.8L386.5,136.7L386.6,138.6L386.7,139.5L386.7,139.5L386.8,138.6L387.0,136.8L387.0,136.6L387.0,136.3L387.1,136.0L387.1,135.7L387.1,135.4L387.1,135.1L387.2,134.7L387.2,134.3L387.2,133.9L387.3,133.5L387.3,133.1L387.3,132.7L387.4,132.2L387.4,131.8L387.4,131.3L387.5,130.8L387.5,130.3L387.5,129.8L387.6,129.3L387.6,128.7L387.6,128.2L387.7,127.6L387.7,127.1L387.7,126.5L387.8,125.9L387.8,125.4L387.8,124.8L387.9,124.2L387.9,123.6L388.0,123.0L388.0,122.4L388.0,121.8L388.1,121.2L388.1,120.6L388.2,120.0L388.2,119.4L388.2,118.8L388.3,118.2L388.3,117.6L388.3,117.0L388.4,116.4L388.4,115.8L388.5,115.2L388.5,114.6L388.5,114.0L388.6,113.5L388.6,112.9L388.6,112.3L388.7,111.8L388.7,111.3L388.7,110.7L388.8,110.2L388.8,109.7L388.8,109.2L388.9,108.7L388.9,108.2L388.9,107.8L389.0,107.3L389.0,106.9L389.0,106.3L389.1,105.6L389.1,105.0L389.2,104.4L389.2,103.7L389.3,103.1L389.3,102.4L389.3,101.8L389.4,101.1L389.4,100.5L389.5,99.8L389.5,99.2L389.5,98.6L389.6,97.9L389.6,97.3L389.6,96.7L389.7,96.1L389.7,95.5L389.8,94.9L389.8,94.3L389.8,93.8L389.9,93.2L389.9,92.7L389.9,92.2L390.0,91.7L390.0,91.2L390.0,90.7L390.1,90.3L390.1,89.8L390.1,89.4L390.2,89.1L390.2,88.7L390.2,88.3L390.3,88.0L390.3,87.7L390.4,87.5L390.4,87.2L390.4,87.0L390.5,86.9L390.5,86.7L390.6,86.5L390.7,86.3L390.7,86.3L390.8,86.3L390.9,86.5L391.0,86.7L391.0,87.0L391.1,87.4L391.2,87.9L391.2,88.4L391.3,89.0L391.4,89.7L391.5,90.4L391.5,91.2L391.6,92.1L391.7,93.0L391.8,94.0L391.8,95.0L391.9,96.1L391.9,96.4L391.9,96.8L392.0,97.1L392.0,97.5L392.0,97.9L392.0,98.2L392.0,98.6L392.1,99.0L392.1,99.5L392.1,99.9L392.1,100.3L392.1,100.7L392.2,101.2L392.2,101.6L392.2,102.1L392.2,102.6L392.2,103.0L392.2,103.5L392.3,104.0L392.3,104.5L392.3,105.0L392.3,105.5L392.3,106.0L392.4,106.6L392.4,107.1L392.4,107.6L392.4,108.1L392.4,108.7L392.4,109.2L392.5,109.7L392.5,110.3L392.5,110.8L392.5,111.4L392.5,111.9L392.6,112.5L392.6,113.1L392.6,113.6L392.6,114.2L392.6,114.7L392.7,115.3L392.7,115.9L392.7,116.4L392.7,117.0L392.7,117.6L392.8,118.1L392.8,118.7L392.8,119.3L392.8,119.8L392.8,120.4L392.9,120.9L392.9,121.5L392.9,122.0L392.9,122.6L392.9,123.1L393.0,123.7L393.0,124.2L393.0,124.8L393.0,125.3L393.1,125.8L393.1,126.4L393.1,126.9L393.1,127.4L393.2,127.9L393.2,128.4L393.2,128.9L393.3,129.4L393.3,130.0L393.3,130.5L393.3,131.1L393.4,131.7L393.4,132.3L393.4,132.8L393.5,133.4L393.5,134.0L393.5,134.7L393.6,135.3L393.6,135.9L393.6,136.5L393.7,137.2L393.7,137.8L393.7,138.4L393.8,139.1L393.8,139.7L393.8,140.4L393.9,141.0L393.9,141.7L394.0,142.3L394.0,143.0L394.0,143.6L394.1,144.2L394.1,144.9L394.1,145.5L394.2,146.1L394.2,146.8L394.3,147.4L394.3,148.0L394.3,148.6L394.4,149.2L394.4,149.8L394.4,150.4L394.5,150.9L394.5,151.5L394.6,152.0L394.6,152.6L394.6,153.1L394.7,153.6L394.7,154.1L394.7,154.6L394.8,155.1L394.8,155.5L394.9,156.0L394.9,156.4L394.9,156.8L395.0,157.2L395.0,157.5L395.0,157.9L395.1,158.2L395.1,158.5L395.1,158.8L395.2,159.1L395.2,159.3L395.2,159.6L395.3,159.8L395.3,159.9L395.3,160.1L395.4,160.2L395.4,160.3L395.4,160.4L395.5,160.4L395.5,160.4L395.6,160.4L395.6,160.2L395.7,160.1L395.7,159.9L395.8,159.6L395.8,159.3L395.8,158.9L395.9,158.6L395.9,158.1L396.0,157.7L396.0,157.2L396.1,156.7L396.1,156.1L396.1,155.6L396.2,155.0L396.2,154.4L396.3,153.7L396.3,153.1L396.3,152.4L396.4,151.7L396.4,151.1L396.5,150.4L396.5,149.6L396.5,148.9L396.6,148.2L396.6,147.5L396.7,146.8L396.7,146.1L396.7,145.4L396.8,144.7L396.8,144.0L396.8,143.4L396.9,142.7L396.9,142.1L397.0,141.4L397.0,140.8L397.0,140.3L397.1,139.7L397.1,139.2L397.1,138.7L397.2,138.2L397.2,137.7L397.2,137.2L397.3,136.6L397.3,136.1L397.3,135.5L397.4,135.0L397.4,134.4L397.4,133.9L397.5,133.3L397.5,132.8L397.5,132.2L397.6,131.7L397.6,131.1L397.6,130.5L397.7,130.0L397.7,129.4L397.7,128.9L397.8,128.3L397.8,127.7L397.8,127.2L397.9,126.7L397.9,126.1L397.9,125.6L398.0,125.1L398.0,124.5L398.0,124.0L398.1,123.5L398.1,123.0L398.1,122.5L398.2,122.1L398.2,121.6L398.2,121.2L398.2,120.7L398.3,120.3L398.3,119.9L398.3,119.5L398.4,119.1L398.4,118.7L398.4,118.4L398.5,118.0L398.5,117.7L398.6,116.5L398.7,115.4L398.9,114.4L399.0,113.5L399.1,112.8L399.2,112.2L399.3,111.8L399.4,111.6L399.6,111.6L399.7,111.8L399.8,112.3L399.8,112.5L399.9,112.7L399.9,113.0L399.9,113.2L400.0,113.5L400.0,113.9L400.0,114.2L400.1,114.6L400.1,114.9L400.1,115.4L400.2,115.8L400.2,116.2L400.3,116.7L400.3,117.2L400.3,117.7L400.4,118.2L400.4,118.7L400.4,119.2L400.5,119.8L400.5,120.4L400.5,120.9L400.6,121.5L400.6,122.1L400.6,122.7L400.7,123.3L400.7,124.0L400.7,124.6L400.8,125.2L400.8,125.9L400.8,126.5L400.9,127.2L400.9,127.8L401.0,128.5L401.0,129.1L401.0,129.8L401.1,130.4L401.1,131.1L401.1,131.5L401.1,131.9L401.2,132.4L401.2,132.8L401.2,133.3L401.2,133.7L401.3,134.2L401.3,134.7L401.3,135.2L401.3,135.7L401.4,136.2L401.4,136.7L401.4,137.2L401.4,137.7L401.5,138.2L401.5,138.8L401.5,139.3L401.5,139.9L401.6,140.4L401.6,140.9L401.6,141.5L401.6,142.0L401.6,142.6L401.7,143.2L401.7,143.7L401.7,144.3L401.7,144.8L401.8,145.4L401.8,146.0L401.8,146.5L401.8,147.1L401.9,147.6L401.9,148.2L401.9,148.7L401.9,149.3L402.0,149.8L402.0,150.4L402.0,150.9L402.0,151.4L402.1,152.0L402.1,152.5L402.1,153.0L402.1,153.5L402.2,154.1L402.2,154.6L402.2,155.1L402.2,155.5L402.2,156.0L402.3,156.5L402.3,157.0L402.3,157.4L402.3,157.9L402.4,158.3L402.4,158.7L402.4,159.1L402.4,159.6L402.5,159.9L402.5,160.3L402.5,160.7L402.5,161.5L402.6,162.3L402.6,163.1L402.7,163.8L402.7,164.6L402.8,165.4L402.8,166.1L402.9,166.8L402.9,167.5L402.9,168.2L403.0,168.8L403.0,169.4L403.1,170.0L403.1,170.6L403.1,171.1L403.2,171.6L403.2,172.1L403.3,172.5L403.3,172.9L403.4,173.2L403.4,173.5L403.4,173.8L403.5,173.9L403.5,174.1L403.6,174.2L403.6,174.2L403.7,174.2L403.7,174.1L403.8,174.0L403.8,173.8L403.9,173.6L403.9,173.3L404.0,173.0L404.0,172.7L404.1,172.3L404.1,171.9L404.2,171.4L404.2,170.9L404.3,170.4L404.4,169.9L404.4,169.3L404.5,168.7L404.5,168.1L404.6,167.5L404.6,166.9L404.7,166.2L404.7,165.6L404.8,164.9L404.9,164.3L404.9,163.6L405.0,162.9L405.0,162.3L405.1,161.6L405.1,161.0L405.2,160.4L405.2,159.7L405.3,159.1L405.3,158.6L405.4,158.0L405.4,157.5L405.5,157.0L405.5,156.5L405.6,155.9L405.6,155.3L405.7,154.8L405.7,154.1L405.8,153.5L405.8,152.9L405.9,152.3L405.9,151.6L406.0,151.0L406.0,150.3L406.1,149.7L406.1,149.0L406.2,148.4L406.2,147.7L406.2,147.1L406.3,146.5L406.3,145.9L406.4,145.3L406.4,144.7L406.5,144.1L406.5,143.6L406.6,143.1L406.6,142.6L406.7,142.1L406.7,141.6L406.8,141.2L406.8,140.8L406.8,140.5L406.9,140.2L406.9,139.9L407.0,139.7L407.0,139.5L407.1,139.3L407.1,139.2L407.2,139.1L407.2,139.1L407.3,139.2L407.3,139.3L407.4,139.5L407.5,139.7L407.5,140.1L407.6,140.4L407.6,140.8L407.7,141.3L407.7,141.8L407.8,142.4L407.8,143.0L407.9,143.6L408.0,144.3L408.0,145.0L408.1,145.7L408.1,146.4L408.2,147.2L408.2,148.0L408.3,148.8L408.3,149.6L408.4,150.4L408.4,151.2L408.5,152.0L408.5,152.4L408.6,152.8L408.6,153.1L408.6,153.5L408.6,154.0L408.7,154.4L408.7,154.8L408.7,155.3L408.7,155.7L408.8,156.2L408.8,156.6L408.8,157.1L408.8,157.6L408.9,158.1L408.9,158.6L408.9,159.1L408.9,159.6L409.0,160.1L409.0,160.6L409.0,161.2L409.0,161.7L409.1,162.2L409.1,162.8L409.1,163.3L409.1,163.8L409.2,164.4L409.2,164.9L409.2,165.5L409.2,166.0L409.3,166.6L409.3,167.1L409.3,167.7L409.3,168.2L409.4,168.8L409.4,169.3L409.4,169.9L409.4,170.4L409.5,171.0L409.5,171.5L409.5,172.1L409.5,172.6L409.6,173.1L409.6,173.7L409.6,174.2L409.6,174.7L409.7,175.2L409.7,175.7L409.7,176.2L409.7,176.7L409.8,177.2L409.8,177.7L409.8,178.2L409.8,178.6L409.9,179.1L409.9,179.6L409.9,180.0L409.9,180.6L410.0,181.2L410.0,181.7L410.0,182.3L410.1,182.9L410.1,183.5L410.1,184.0L410.1,184.6L410.2,185.1L410.2,185.7L410.2,186.2L410.3,186.8L410.3,187.3L410.3,187.9L410.4,188.4L410.4,188.9L410.4,189.5L410.4,190.0L410.5,190.5L410.5,191.0L410.5,191.5L410.6,192.0L410.6,192.5L410.6,193.0L410.6,193.5L410.7,194.0L410.7,194.5L410.7,195.0L410.7,195.4L410.8,195.9L410.8,196.4L410.8,196.8L410.9,197.3L410.9,197.7L410.9,198.1L410.9,198.6L411.0,199.0L411.0,199.4L411.0,199.8L411.0,200.2L411.1,200.6L411.1,201.0L411.1,201.7L411.2,202.4L411.2,203.1L411.3,203.8L411.3,204.5L411.4,205.2L411.4,205.8L411.4,206.5L411.5,207.1L411.5,207.7L411.6,208.3L411.6,208.8L411.6,209.3L411.7,209.8L411.7,210.3L411.8,210.7L411.8,211.1L411.9,211.4L411.9,211.7L412.0,212.0L412.0,212.2L412.0,212.4L412.1,212.5L412.2,212.6L412.3,212.6L412.3,212.4L412.4,212.2L412.5,211.9L412.6,211.5L412.7,211.1L412.8,210.5L412.9,209.9L413.0,209.3L413.1,208.5L413.2,207.7L413.3,206.9L413.4,206.0L413.5,205.0L413.5,204.6L413.6,204.3L413.6,203.9L413.6,203.5L413.7,203.0L413.7,202.6L413.8,202.1L413.8,201.6L413.9,201.1L413.9,200.6L413.9,200.0L414.0,199.5L414.0,198.9L414.1,198.4L414.1,197.8L414.1,197.2L414.2,196.6L414.2,196.0L414.3,195.4L414.3,194.8L414.4,194.2L414.4,193.7L414.4,193.1L414.5,192.5L414.5,191.9L414.6,191.3L414.6,190.7L414.7,190.1L414.7,189.6L414.7,189.0L414.8,188.5L414.8,188.0L414.9,187.4L414.9,186.9L414.9,186.5L415.0,186.0L415.0,185.5L415.0,185.1L415.1,184.7L415.1,184.3L415.1,184.0L415.2,183.6L415.2,183.3L415.3,181.9L415.5,180.8L415.6,180.0L415.7,179.4L415.8,179.1L415.9,178.9L416.0,178.9L416.1,179.0L416.2,179.1L416.3,179.3L416.4,179.6L416.5,179.9L416.6,180.3L416.7,180.8L416.9,181.3L417.0,181.9L417.1,182.6L417.2,183.4L417.3,184.2L417.4,185.1L417.4,185.5L417.5,185.8L417.5,186.2L417.5,186.6L417.6,187.0L417.6,187.5L417.7,187.9L417.7,188.4L417.7,188.8L417.8,189.3L417.8,189.8L417.8,190.3L417.9,190.8L417.9,191.3L417.9,191.8L418.0,192.3L418.0,192.9L418.0,193.4L418.1,194.0L418.1,194.5L418.1,195.1L418.2,195.6L418.2,196.2L418.2,196.8L418.3,197.3L418.3,197.9L418.3,198.5L418.4,199.0L418.4,199.6L418.4,200.2L418.5,200.7L418.5,201.3L418.5,201.8L418.6,202.2L418.6,202.7L418.6,203.2L418.6,203.7L418.7,204.2L418.7,204.7L418.7,205.3L418.8,205.8L418.8,206.3L418.8,206.8L418.9,207.4L418.9,207.9L418.9,208.5L419.0,209.0L419.0,209.5L419.0,210.1L419.0,210.6L419.1,211.2L419.1,211.7L419.1,212.3L419.2,212.8L419.2,213.3L419.2,213.9L419.3,214.4L419.3,214.9L419.3,215.4L419.4,215.9L419.4,216.4L419.4,216.9L419.5,217.4L419.5,217.9L419.5,218.4L419.5,218.8L419.6,219.3L419.6,219.7L419.6,220.2L419.7,220.6L419.7,221.0L419.8,221.7L419.8,222.4L419.9,223.0L419.9,223.7L420.0,224.4L420.0,225.0L420.1,225.7L420.1,226.3L420.2,226.9L420.2,227.5L420.3,228.1L420.3,228.6L420.4,229.2L420.4,229.7L420.5,230.1L420.5,230.6L420.6,231.0L420.6,231.3L420.7,231.6L420.7,231.9L420.8,232.2L420.8,232.4L420.9,232.5L421.0,232.6L421.1,232.5L421.3,232.3L421.4,231.8L421.5,231.3L421.6,230.7L421.8,230.0L421.9,229.2L422.0,228.5L422.1,227.7L422.3,227.0L422.4,226.4L422.5,225.9L422.6,225.4L422.7,224.9L422.8,224.3L422.9,223.7L423.0,223.0L423.1,222.4L423.2,221.8L423.3,221.2L423.4,220.6L423.5,220.1L423.6,219.7L423.7,219.3L423.8,218.9L423.9,218.7L424.0,218.5L424.2,218.4L424.4,218.4L424.5,218.6L424.7,219.0L424.9,219.5L425.1,220.1L425.2,220.9L425.4,221.8L425.6,222.8L425.7,223.1L425.7,223.5L425.8,223.9L425.8,224.3L425.9,224.8L426.0,225.3L426.0,225.8L426.1,226.3L426.2,226.8L426.2,227.3L426.3,227.9L426.4,228.4L426.5,229.0L426.5,229.6L426.6,230.2L426.7,230.7L426.7,231.3L426.8,231.9L426.9,232.5L426.9,233.0L427.0,233.6L427.0,234.1L427.1,234.7L427.2,235.2L427.2,235.7L427.3,236.2L427.3,236.6L427.4,237.1L427.4,237.5L427.5,238.2L427.5,238.8L427.6,239.4L427.6,240.0L427.7,240.5L427.7,241.0L427.7,241.5L427.8,242.0L427.8,242.5L427.8,243.0L427.9,243.4L427.9,243.9L427.9,244.3L428.0,244.8L428.0,245.2L428.1,245.7L428.1,246.2L428.2,246.7L428.2,247.3L428.3,247.8L428.4,248.4L428.4,248.9L428.5,249.4L428.6,250.0L428.6,250.5L428.7,251.0L428.8,251.6L428.9,252.0L428.9,252.5L429.0,253.0L429.1,253.4L429.1,253.8L429.2,254.2L429.3,255.0L429.5,255.6L429.6,256.1L429.7,256.5L429.9,256.9L430.0,257.4L430.1,257.8L430.2,258.4L430.3,259.2L430.4,259.9L430.6,260.5L430.7,260.8L430.8,260.8L430.9,260.6L431.0,260.3L431.0,259.8L431.1,259.3L431.2,258.7L431.3,258.1L431.4,257.4L431.5,256.8L431.6,256.2L431.7,255.6L431.8,255.2L432.0,254.5L432.3,253.7L432.6,253.0L432.9,252.5L433.2,252.2L433.5,252.2L433.7,252.4L433.8,252.8L434.0,253.3L434.1,253.9L434.2,254.6L434.4,255.2L434.5,255.9L434.7,256.5L434.8,257.0L435.0,257.6L435.3,258.0L435.5,258.4L435.7,258.8L436.0,259.3L436.2,260.0L436.3,260.4L436.4,260.8L436.5,261.3L436.6,261.8L436.7,262.4L436.8,262.9L436.9,263.5L436.9,264.0L437.0,264.6L437.1,265.1L437.2,265.6L437.3,266.1L437.4,266.5L437.6,267.1L437.7,267.6L437.9,268.1L438.1,268.6L438.2,269.0L438.4,269.5L438.6,269.9L438.7,270.5L438.8,270.9L438.9,271.4L439.0,271.9L439.1,272.4L439.1,273.0L439.2,273.5L439.3,274.0L439.4,274.6L439.5,275.1L439.5,275.5L439.6,276.0L439.7,276.6L439.8,277.2L439.9,277.9L440.0,278.4L440.1,279.0L440.2,279.5L440.2,279.9L440.3,280.2" stroke="#000" stroke-width="1.55" fill="none" stroke-linejoin="round"/><path d="M440.0,280.4L440.5,280.9L441.0,280.6L441.5,280.7L442.0,277.6L442.5,280.8L443.0,281.8L443.5,281.7L444.0,282.3L444.5,282.4L445.0,280.6L445.5,278.7L446.0,282.6L446.5,282.8L447.0,283.1L447.5,284.2L448.0,278.9L448.5,282.5L449.0,283.0L449.5,281.2L450.0,282.9L450.5,287.0L451.0,282.4L451.5,281.5L452.0,283.1L452.5,278.3L453.0,279.9L453.5,280.9L454.0,280.4L454.5,280.6L455.0,282.9L455.5,283.9L456.0,287.4L456.5,280.6L457.0,282.3L457.5,280.8L458.0,281.9L458.5,283.1L459.0,286.9L459.5,281.7L460.0,288.2L460.5,280.5L461.0,280.2L461.5,288.3L462.0,287.9L462.5,285.3L463.0,286.4L463.5,286.6L464.0,284.6L464.5,283.3L465.0,284.3L465.5,283.6L466.0,281.0L466.5,283.5L467.0,284.1L467.5,285.2L468.0,287.0L468.5,286.7L469.0,288.3L469.5,290.2L470.0,281.5L470.5,287.2L471.0,284.8L471.5,289.8L472.0,287.0L472.5,287.4L473.0,293.1L473.5,286.1L474.0,288.2L474.5,289.8L475.0,286.1L475.5,282.6L476.0,288.0L476.5,287.1L477.0,290.9L477.5,288.2L478.0,286.7L478.5,290.4L479.0,291.3L479.5,285.1L480.0,283.0L480.5,286.9L481.0,291.7L481.5,288.3L482.0,290.2L482.5,287.0L483.0,292.0L483.5,292.4L484.0,293.7L484.5,294.5L485.0,287.8L485.5,294.4L486.0,291.3L486.5,297.4L487.0,291.3L487.5,294.1L488.0,294.5L488.5,294.0L489.0,293.1L489.5,292.4L490.0,291.4L490.5,294.4L491.0,290.1L491.5,293.6L492.0,294.1L492.5,295.0L493.0,295.7L493.5,297.1L494.0,294.1L494.5,296.8L495.0,294.3L495.5,296.0L496.0,294.5L496.5,295.8L497.0,294.9L497.5,291.0L498.0,295.5L498.5,302.1L499.0,297.1L499.5,295.4L500.0,297.3L500.5,294.5L501.0,290.5L501.5,299.4L502.0,293.6L502.5,297.7L503.0,296.4L503.5,291.9L504.0,295.5L504.5,296.2L505.0,298.6L505.5,293.4L506.0,295.9L506.5,294.0L507.0,290.2L507.5,291.0L508.0,294.5L508.5,290.7L509.0,293.4L509.5,293.9L510.0,293.7L510.5,288.9L511.0,294.2L511.5,293.3L512.0,292.7L512.5,290.5L513.0,295.6L513.5,300.0L514.0,292.2L514.5,294.3L515.0,292.6L515.5,296.5L516.0,299.4L516.5,300.3L517.0,297.9L517.5,298.6L518.0,296.7L518.5,301.0L519.0,297.7L519.5,301.6L520.0,299.6L520.5,298.5L521.0,303.1L521.5,297.9L522.0,295.3L522.5,301.6L523.0,301.0L523.5,299.0L524.0,301.3L524.5,305.4L525.0,300.2L525.5,299.1L526.0,301.2L526.5,297.6L527.0,301.5L527.5,296.3L528.0,297.4L528.5,296.9L529.0,299.8L529.5,301.4L530.0,299.9L530.5,296.7L531.0,298.5L531.5,294.3L532.0,301.7L532.5,300.6L533.0,295.8L533.5,298.1L534.0,300.7L534.5,297.0L535.0,296.9L535.5,296.9L536.0,300.7L536.5,297.2L537.0,293.1L537.5,299.7L538.0,294.7L538.5,297.9L539.0,297.1L539.5,295.8L540.0,297.6L540.5,296.6L541.0,297.4L541.5,296.0L542.0,296.4L542.5,295.8L543.0,296.7L543.5,297.8L544.0,296.7L544.5,294.8L545.0,297.3L545.5,299.2L546.0,296.8L546.5,294.7L547.0,300.2L547.5,301.9L548.0,297.4L548.5,300.8L549.0,301.0L549.5,299.2L550.0,300.9L550.5,298.6L551.0,295.9L551.5,298.2L552.0,299.0L552.5,300.4L553.0,298.5L553.5,300.1L554.0,304.3L554.5,301.1L555.0,298.5L555.5,301.9L556.0,300.0L556.5,300.9L557.0,294.7L557.5,302.1L558.0,298.8" stroke="#000" stroke-width="1.6" fill="none" stroke-linejoin="round"/><g transform="translate(289.00,305.32) scale(0.63,1)" stroke="#000" stroke-width="0.25"><text x="-30.95" y="0" font-family="Liberation Sans, sans-serif" font-weight="bold" font-size="15.9">0.00</text></g><g transform="translate(289.00,217.38) scale(0.63,1)" stroke="#000" stroke-width="0.25"><text x="-30.95" y="0" font-family="Liberation Sans, sans-serif" font-weight="bold" font-size="15.9">0.0</text><path transform="translate(-8.843,0) scale(0.007764,-0.007764)" d="M842,0 L556,0 L556,1030 C455,940 330,880 176,840 L176,1095 C280,1130 380,1190 460,1260 C540,1330 590,1395 606,1409 L842,1409 Z"/></g><g transform="translate(289.00,129.44) scale(0.63,1)" stroke="#000" stroke-width="0.25"><text x="-30.95" y="0" font-family="Liberation Sans, sans-serif" font-weight="bold" font-size="15.9">0.02</text></g><g transform="translate(289.00,41.50) scale(0.63,1)" stroke="#000" stroke-width="0.25"><text x="-30.95" y="0" font-family="Liberation Sans, sans-serif" font-weight="bold" font-size="15.9">0.03</text></g><g transform="translate(343.65,350.90) scale(0.63,1)" stroke="#000" stroke-width="0.25"><path transform="translate(-13.264,0) scale(0.007764,-0.007764)" d="M842,0 L556,0 L556,1030 C455,940 330,880 176,840 L176,1095 C280,1130 380,1190 460,1260 C540,1330 590,1395 606,1409 L842,1409 Z"/><text x="-4.42" y="0" font-family="Liberation Sans, sans-serif" font-weight="bold" font-size="15.9">60</text></g><g transform="translate(415.27,350.90) scale(0.63,1)" stroke="#000" stroke-width="0.25"><path transform="translate(-13.264,0) scale(0.007764,-0.007764)" d="M842,0 L556,0 L556,1030 C455,940 330,880 176,840 L176,1095 C280,1130 380,1190 460,1260 C540,1330 590,1395 606,1409 L842,1409 Z"/><text x="-4.42" y="0" font-family="Liberation Sans, sans-serif" font-weight="bold" font-size="15.9">80</text></g><g transform="translate(486.88,350.90) scale(0.63,1)" stroke="#000" stroke-width="0.25"><text x="-13.26" y="0" font-family="Liberation Sans, sans-serif" font-weight="bold" font-size="15.9">200</text></g><g transform="translate(558.50,350.90) scale(0.63,1)" stroke="#000" stroke-width="0.25"><text x="-13.26" y="0" font-family="Liberation Sans, sans-serif" font-weight="bold" font-size="15.9">220</text></g><path d="M107,316.8 V383.5" stroke="#000" stroke-width="1.5"/><path d="M107,306.3 L103.7,317.8 L110.3,317.8 Z" fill="#000"/><path d="M179,200.2 V383.5" stroke="#000" stroke-width="1.5"/><path d="M179,189.7 L175.7,201.2 L182.3,201.2 Z" fill="#000"/><path d="M384.4,167.2 V326.8" stroke="#000" stroke-width="1.5"/><path d="M384.4,156.7 L381.09999999999997,168.2 L387.7,168.2 Z" fill="#000"/><rect x="104" y="337.5" width="6" height="16.5" fill="#fff"/><text x="93.8" y="352.9" font-family="Liberation Serif, serif" font-weight="bold" font-size="18.7">114 nm</text><rect x="175" y="278.5" width="9" height="25.5" fill="#fff"/><text x="157.2" y="301" font-family="Liberation Serif, serif" font-weight="bold" font-size="18.7">130 nm</text><rect x="380" y="245.5" width="8" height="22.80000000000001" fill="#fff"/><text x="360.0" y="264.7" font-family="Liberation Serif, serif" font-weight="bold" font-size="18.7">171 nm</text></svg></body></html>
